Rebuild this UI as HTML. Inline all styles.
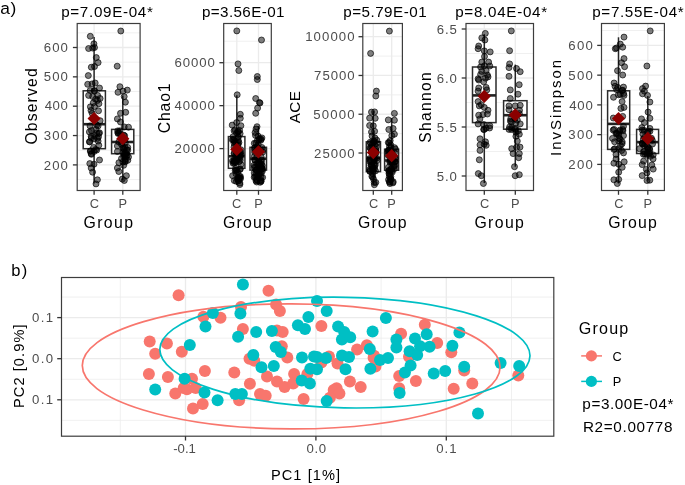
<!DOCTYPE html>
<html><head><meta charset="utf-8"><style>
html,body{margin:0;padding:0;background:#fff;width:685px;height:485px;overflow:hidden}
svg{display:block;will-change:transform}
text{font-family:"Liberation Sans",sans-serif}
</style></head><body>
<svg width="685" height="485" viewBox="0 0 685 485">
<rect x="0" y="0" width="685" height="485" fill="#fff"/>
<line x1="77.20" y1="32.83" x2="140.10" y2="32.83" stroke="#EBEBEB" stroke-width="0.75" />
<line x1="77.20" y1="62.17" x2="140.10" y2="62.17" stroke="#EBEBEB" stroke-width="0.75" />
<line x1="77.20" y1="91.53" x2="140.10" y2="91.53" stroke="#EBEBEB" stroke-width="0.75" />
<line x1="77.20" y1="120.88" x2="140.10" y2="120.88" stroke="#EBEBEB" stroke-width="0.75" />
<line x1="77.20" y1="150.22" x2="140.10" y2="150.22" stroke="#EBEBEB" stroke-width="0.75" />
<line x1="77.20" y1="179.57" x2="140.10" y2="179.57" stroke="#EBEBEB" stroke-width="0.75" />
<line x1="77.20" y1="47.50" x2="140.10" y2="47.50" stroke="#EBEBEB" stroke-width="1.3" />
<line x1="77.20" y1="76.85" x2="140.10" y2="76.85" stroke="#EBEBEB" stroke-width="1.3" />
<line x1="77.20" y1="106.20" x2="140.10" y2="106.20" stroke="#EBEBEB" stroke-width="1.3" />
<line x1="77.20" y1="135.55" x2="140.10" y2="135.55" stroke="#EBEBEB" stroke-width="1.3" />
<line x1="77.20" y1="164.90" x2="140.10" y2="164.90" stroke="#EBEBEB" stroke-width="1.3" />
<line x1="94.10" y1="23.50" x2="94.10" y2="190.50" stroke="#EBEBEB" stroke-width="1.3" />
<line x1="122.80" y1="23.50" x2="122.80" y2="190.50" stroke="#EBEBEB" stroke-width="1.3" />
<line x1="94.10" y1="36.90" x2="94.10" y2="90.80" stroke="#262626" stroke-width="1.5" />
<line x1="94.10" y1="148.70" x2="94.10" y2="183.50" stroke="#262626" stroke-width="1.5" />
<rect x="83.20" y="90.80" width="22.20" height="57.90" fill="#fff" stroke="#2b2b2b" stroke-width="1.5"/>
<line x1="83.20" y1="124.20" x2="105.40" y2="124.20" stroke="#222" stroke-width="2.6" />
<line x1="122.80" y1="95.40" x2="122.80" y2="129.40" stroke="#262626" stroke-width="1.5" />
<line x1="122.80" y1="153.70" x2="122.80" y2="180.50" stroke="#262626" stroke-width="1.5" />
<rect x="111.60" y="129.40" width="22.20" height="24.30" fill="#fff" stroke="#2b2b2b" stroke-width="1.5"/>
<line x1="111.60" y1="142.00" x2="133.80" y2="142.00" stroke="#222" stroke-width="2.6" />
<circle cx="90.3" cy="36.3" r="3.0" fill="rgba(0,0,0,0.5)" stroke="rgba(0,0,0,0.65)" stroke-width="1.0"/>
<circle cx="93.9" cy="43.8" r="3.0" fill="rgba(0,0,0,0.5)" stroke="rgba(0,0,0,0.65)" stroke-width="1.0"/>
<circle cx="88.6" cy="48.5" r="3.0" fill="rgba(0,0,0,0.5)" stroke="rgba(0,0,0,0.65)" stroke-width="1.0"/>
<circle cx="92.7" cy="48.1" r="3.0" fill="rgba(0,0,0,0.5)" stroke="rgba(0,0,0,0.65)" stroke-width="1.0"/>
<circle cx="94.5" cy="47.5" r="3.0" fill="rgba(0,0,0,0.5)" stroke="rgba(0,0,0,0.65)" stroke-width="1.0"/>
<circle cx="96.3" cy="57.6" r="3.0" fill="rgba(0,0,0,0.5)" stroke="rgba(0,0,0,0.65)" stroke-width="1.0"/>
<circle cx="98.1" cy="62.6" r="3.0" fill="rgba(0,0,0,0.5)" stroke="rgba(0,0,0,0.65)" stroke-width="1.0"/>
<circle cx="91.3" cy="67.2" r="3.0" fill="rgba(0,0,0,0.5)" stroke="rgba(0,0,0,0.65)" stroke-width="1.0"/>
<circle cx="94.5" cy="66.5" r="3.0" fill="rgba(0,0,0,0.5)" stroke="rgba(0,0,0,0.65)" stroke-width="1.0"/>
<circle cx="88.3" cy="75.6" r="3.0" fill="rgba(0,0,0,0.5)" stroke="rgba(0,0,0,0.65)" stroke-width="1.0"/>
<circle cx="87.7" cy="84.3" r="3.0" fill="rgba(0,0,0,0.5)" stroke="rgba(0,0,0,0.65)" stroke-width="1.0"/>
<circle cx="92.1" cy="83.9" r="3.0" fill="rgba(0,0,0,0.5)" stroke="rgba(0,0,0,0.65)" stroke-width="1.0"/>
<circle cx="95.2" cy="83.0" r="3.0" fill="rgba(0,0,0,0.5)" stroke="rgba(0,0,0,0.65)" stroke-width="1.0"/>
<circle cx="99.5" cy="88.0" r="3.0" fill="rgba(0,0,0,0.5)" stroke="rgba(0,0,0,0.65)" stroke-width="1.0"/>
<circle cx="90.2" cy="90.5" r="3.0" fill="rgba(0,0,0,0.5)" stroke="rgba(0,0,0,0.65)" stroke-width="1.0"/>
<circle cx="94.5" cy="91.1" r="3.0" fill="rgba(0,0,0,0.5)" stroke="rgba(0,0,0,0.65)" stroke-width="1.0"/>
<circle cx="92.7" cy="96.6" r="3.0" fill="rgba(0,0,0,0.5)" stroke="rgba(0,0,0,0.65)" stroke-width="1.0"/>
<circle cx="97.6" cy="95.4" r="3.0" fill="rgba(0,0,0,0.5)" stroke="rgba(0,0,0,0.65)" stroke-width="1.0"/>
<circle cx="100.1" cy="98.5" r="3.0" fill="rgba(0,0,0,0.5)" stroke="rgba(0,0,0,0.65)" stroke-width="1.0"/>
<circle cx="93.3" cy="102.8" r="3.0" fill="rgba(0,0,0,0.5)" stroke="rgba(0,0,0,0.65)" stroke-width="1.0"/>
<circle cx="98.9" cy="103.7" r="3.0" fill="rgba(0,0,0,0.5)" stroke="rgba(0,0,0,0.65)" stroke-width="1.0"/>
<circle cx="94.5" cy="106.5" r="3.0" fill="rgba(0,0,0,0.5)" stroke="rgba(0,0,0,0.65)" stroke-width="1.0"/>
<circle cx="98.5" cy="110.8" r="3.0" fill="rgba(0,0,0,0.5)" stroke="rgba(0,0,0,0.65)" stroke-width="1.0"/>
<circle cx="92.1" cy="113.3" r="3.0" fill="rgba(0,0,0,0.5)" stroke="rgba(0,0,0,0.65)" stroke-width="1.0"/>
<circle cx="100.1" cy="120.7" r="3.0" fill="rgba(0,0,0,0.5)" stroke="rgba(0,0,0,0.65)" stroke-width="1.0"/>
<circle cx="91.5" cy="130.6" r="3.0" fill="rgba(0,0,0,0.5)" stroke="rgba(0,0,0,0.65)" stroke-width="1.0"/>
<circle cx="95.8" cy="129.4" r="3.0" fill="rgba(0,0,0,0.5)" stroke="rgba(0,0,0,0.65)" stroke-width="1.0"/>
<circle cx="99.5" cy="132.8" r="3.0" fill="rgba(0,0,0,0.5)" stroke="rgba(0,0,0,0.65)" stroke-width="1.0"/>
<circle cx="98.8" cy="133.5" r="3.0" fill="rgba(0,0,0,0.5)" stroke="rgba(0,0,0,0.65)" stroke-width="1.0"/>
<circle cx="91.2" cy="136.3" r="3.0" fill="rgba(0,0,0,0.5)" stroke="rgba(0,0,0,0.65)" stroke-width="1.0"/>
<circle cx="94.6" cy="135.6" r="3.0" fill="rgba(0,0,0,0.5)" stroke="rgba(0,0,0,0.65)" stroke-width="1.0"/>
<circle cx="89.8" cy="141.8" r="3.0" fill="rgba(0,0,0,0.5)" stroke="rgba(0,0,0,0.65)" stroke-width="1.0"/>
<circle cx="98.1" cy="141.1" r="3.0" fill="rgba(0,0,0,0.5)" stroke="rgba(0,0,0,0.65)" stroke-width="1.0"/>
<circle cx="98.8" cy="145.3" r="3.0" fill="rgba(0,0,0,0.5)" stroke="rgba(0,0,0,0.65)" stroke-width="1.0"/>
<circle cx="90.5" cy="150.8" r="3.0" fill="rgba(0,0,0,0.5)" stroke="rgba(0,0,0,0.65)" stroke-width="1.0"/>
<circle cx="94.0" cy="151.5" r="3.0" fill="rgba(0,0,0,0.5)" stroke="rgba(0,0,0,0.65)" stroke-width="1.0"/>
<circle cx="96.7" cy="150.1" r="3.0" fill="rgba(0,0,0,0.5)" stroke="rgba(0,0,0,0.65)" stroke-width="1.0"/>
<circle cx="91.2" cy="153.6" r="3.0" fill="rgba(0,0,0,0.5)" stroke="rgba(0,0,0,0.65)" stroke-width="1.0"/>
<circle cx="99.5" cy="160.0" r="3.0" fill="rgba(0,0,0,0.5)" stroke="rgba(0,0,0,0.65)" stroke-width="1.0"/>
<circle cx="89.8" cy="163.6" r="3.0" fill="rgba(0,0,0,0.5)" stroke="rgba(0,0,0,0.65)" stroke-width="1.0"/>
<circle cx="94.0" cy="164.2" r="3.0" fill="rgba(0,0,0,0.5)" stroke="rgba(0,0,0,0.65)" stroke-width="1.0"/>
<circle cx="91.2" cy="168.0" r="3.0" fill="rgba(0,0,0,0.5)" stroke="rgba(0,0,0,0.65)" stroke-width="1.0"/>
<circle cx="92.6" cy="172.2" r="3.0" fill="rgba(0,0,0,0.5)" stroke="rgba(0,0,0,0.65)" stroke-width="1.0"/>
<circle cx="97.4" cy="179.8" r="3.0" fill="rgba(0,0,0,0.5)" stroke="rgba(0,0,0,0.65)" stroke-width="1.0"/>
<circle cx="96.0" cy="183.9" r="3.0" fill="rgba(0,0,0,0.5)" stroke="rgba(0,0,0,0.65)" stroke-width="1.0"/>
<circle cx="90.4" cy="151.3" r="3.0" fill="rgba(0,0,0,0.5)" stroke="rgba(0,0,0,0.65)" stroke-width="1.0"/>
<circle cx="96.7" cy="132.9" r="3.0" fill="rgba(0,0,0,0.5)" stroke="rgba(0,0,0,0.65)" stroke-width="1.0"/>
<circle cx="94.1" cy="138.9" r="3.0" fill="rgba(0,0,0,0.5)" stroke="rgba(0,0,0,0.65)" stroke-width="1.0"/>
<circle cx="95.6" cy="149.5" r="3.0" fill="rgba(0,0,0,0.5)" stroke="rgba(0,0,0,0.65)" stroke-width="1.0"/>
<circle cx="90.0" cy="125.9" r="3.0" fill="rgba(0,0,0,0.5)" stroke="rgba(0,0,0,0.65)" stroke-width="1.0"/>
<circle cx="97.5" cy="138.4" r="3.0" fill="rgba(0,0,0,0.5)" stroke="rgba(0,0,0,0.65)" stroke-width="1.0"/>
<circle cx="96.7" cy="125.1" r="3.0" fill="rgba(0,0,0,0.5)" stroke="rgba(0,0,0,0.65)" stroke-width="1.0"/>
<circle cx="93.6" cy="147.4" r="3.0" fill="rgba(0,0,0,0.5)" stroke="rgba(0,0,0,0.65)" stroke-width="1.0"/>
<circle cx="91.4" cy="154.3" r="3.0" fill="rgba(0,0,0,0.5)" stroke="rgba(0,0,0,0.65)" stroke-width="1.0"/>
<circle cx="98.1" cy="125.9" r="3.0" fill="rgba(0,0,0,0.5)" stroke="rgba(0,0,0,0.65)" stroke-width="1.0"/>
<circle cx="89.4" cy="141.8" r="3.0" fill="rgba(0,0,0,0.5)" stroke="rgba(0,0,0,0.65)" stroke-width="1.0"/>
<circle cx="98.5" cy="136.8" r="3.0" fill="rgba(0,0,0,0.5)" stroke="rgba(0,0,0,0.65)" stroke-width="1.0"/>
<circle cx="91.3" cy="138.1" r="3.0" fill="rgba(0,0,0,0.5)" stroke="rgba(0,0,0,0.65)" stroke-width="1.0"/>
<circle cx="89.4" cy="131.9" r="3.0" fill="rgba(0,0,0,0.5)" stroke="rgba(0,0,0,0.65)" stroke-width="1.0"/>
<circle cx="90.4" cy="106.8" r="3.0" fill="rgba(0,0,0,0.5)" stroke="rgba(0,0,0,0.65)" stroke-width="1.0"/>
<circle cx="95.6" cy="99.2" r="3.0" fill="rgba(0,0,0,0.5)" stroke="rgba(0,0,0,0.65)" stroke-width="1.0"/>
<circle cx="91.0" cy="110.5" r="3.0" fill="rgba(0,0,0,0.5)" stroke="rgba(0,0,0,0.65)" stroke-width="1.0"/>
<circle cx="97.5" cy="100.4" r="3.0" fill="rgba(0,0,0,0.5)" stroke="rgba(0,0,0,0.65)" stroke-width="1.0"/>
<circle cx="94.2" cy="90.5" r="3.0" fill="rgba(0,0,0,0.5)" stroke="rgba(0,0,0,0.65)" stroke-width="1.0"/>
<circle cx="88.6" cy="95.4" r="3.0" fill="rgba(0,0,0,0.5)" stroke="rgba(0,0,0,0.65)" stroke-width="1.0"/>
<circle cx="120.8" cy="31.0" r="3.0" fill="rgba(0,0,0,0.5)" stroke="rgba(0,0,0,0.65)" stroke-width="1.0"/>
<circle cx="117.2" cy="66.2" r="3.0" fill="rgba(0,0,0,0.5)" stroke="rgba(0,0,0,0.65)" stroke-width="1.0"/>
<circle cx="119.9" cy="86.7" r="3.0" fill="rgba(0,0,0,0.5)" stroke="rgba(0,0,0,0.65)" stroke-width="1.0"/>
<circle cx="118.0" cy="92.3" r="3.0" fill="rgba(0,0,0,0.5)" stroke="rgba(0,0,0,0.65)" stroke-width="1.0"/>
<circle cx="123.0" cy="91.1" r="3.0" fill="rgba(0,0,0,0.5)" stroke="rgba(0,0,0,0.65)" stroke-width="1.0"/>
<circle cx="127.3" cy="90.1" r="3.0" fill="rgba(0,0,0,0.5)" stroke="rgba(0,0,0,0.65)" stroke-width="1.0"/>
<circle cx="124.2" cy="96.6" r="3.0" fill="rgba(0,0,0,0.5)" stroke="rgba(0,0,0,0.65)" stroke-width="1.0"/>
<circle cx="125.4" cy="102.2" r="3.0" fill="rgba(0,0,0,0.5)" stroke="rgba(0,0,0,0.65)" stroke-width="1.0"/>
<circle cx="120.5" cy="113.3" r="3.0" fill="rgba(0,0,0,0.5)" stroke="rgba(0,0,0,0.65)" stroke-width="1.0"/>
<circle cx="125.7" cy="112.3" r="3.0" fill="rgba(0,0,0,0.5)" stroke="rgba(0,0,0,0.65)" stroke-width="1.0"/>
<circle cx="117.4" cy="118.9" r="3.0" fill="rgba(0,0,0,0.5)" stroke="rgba(0,0,0,0.65)" stroke-width="1.0"/>
<circle cx="120.5" cy="122.0" r="3.0" fill="rgba(0,0,0,0.5)" stroke="rgba(0,0,0,0.65)" stroke-width="1.0"/>
<circle cx="124.2" cy="126.9" r="3.0" fill="rgba(0,0,0,0.5)" stroke="rgba(0,0,0,0.65)" stroke-width="1.0"/>
<circle cx="128.5" cy="127.2" r="3.0" fill="rgba(0,0,0,0.5)" stroke="rgba(0,0,0,0.65)" stroke-width="1.0"/>
<circle cx="119.3" cy="133.1" r="3.0" fill="rgba(0,0,0,0.5)" stroke="rgba(0,0,0,0.65)" stroke-width="1.0"/>
<circle cx="118.1" cy="133.5" r="3.0" fill="rgba(0,0,0,0.5)" stroke="rgba(0,0,0,0.65)" stroke-width="1.0"/>
<circle cx="117.4" cy="146.0" r="3.0" fill="rgba(0,0,0,0.5)" stroke="rgba(0,0,0,0.65)" stroke-width="1.0"/>
<circle cx="125.0" cy="147.3" r="3.0" fill="rgba(0,0,0,0.5)" stroke="rgba(0,0,0,0.65)" stroke-width="1.0"/>
<circle cx="117.4" cy="151.5" r="3.0" fill="rgba(0,0,0,0.5)" stroke="rgba(0,0,0,0.65)" stroke-width="1.0"/>
<circle cx="127.8" cy="150.1" r="3.0" fill="rgba(0,0,0,0.5)" stroke="rgba(0,0,0,0.65)" stroke-width="1.0"/>
<circle cx="123.0" cy="152.2" r="3.0" fill="rgba(0,0,0,0.5)" stroke="rgba(0,0,0,0.65)" stroke-width="1.0"/>
<circle cx="123.7" cy="154.2" r="3.0" fill="rgba(0,0,0,0.5)" stroke="rgba(0,0,0,0.65)" stroke-width="1.0"/>
<circle cx="128.5" cy="157.0" r="3.0" fill="rgba(0,0,0,0.5)" stroke="rgba(0,0,0,0.65)" stroke-width="1.0"/>
<circle cx="125.0" cy="161.1" r="3.0" fill="rgba(0,0,0,0.5)" stroke="rgba(0,0,0,0.65)" stroke-width="1.0"/>
<circle cx="123.7" cy="165.3" r="3.0" fill="rgba(0,0,0,0.5)" stroke="rgba(0,0,0,0.65)" stroke-width="1.0"/>
<circle cx="117.4" cy="168.0" r="3.0" fill="rgba(0,0,0,0.5)" stroke="rgba(0,0,0,0.65)" stroke-width="1.0"/>
<circle cx="118.8" cy="171.5" r="3.0" fill="rgba(0,0,0,0.5)" stroke="rgba(0,0,0,0.65)" stroke-width="1.0"/>
<circle cx="126.4" cy="175.7" r="3.0" fill="rgba(0,0,0,0.5)" stroke="rgba(0,0,0,0.65)" stroke-width="1.0"/>
<circle cx="122.3" cy="179.1" r="3.0" fill="rgba(0,0,0,0.5)" stroke="rgba(0,0,0,0.65)" stroke-width="1.0"/>
<circle cx="124.3" cy="180.5" r="3.0" fill="rgba(0,0,0,0.5)" stroke="rgba(0,0,0,0.65)" stroke-width="1.0"/>
<circle cx="127.8" cy="160.3" r="3.0" fill="rgba(0,0,0,0.5)" stroke="rgba(0,0,0,0.65)" stroke-width="1.0"/>
<circle cx="117.9" cy="132.7" r="3.0" fill="rgba(0,0,0,0.5)" stroke="rgba(0,0,0,0.65)" stroke-width="1.0"/>
<circle cx="126.5" cy="153.6" r="3.0" fill="rgba(0,0,0,0.5)" stroke="rgba(0,0,0,0.65)" stroke-width="1.0"/>
<circle cx="124.7" cy="139.9" r="3.0" fill="rgba(0,0,0,0.5)" stroke="rgba(0,0,0,0.65)" stroke-width="1.0"/>
<circle cx="124.0" cy="149.4" r="3.0" fill="rgba(0,0,0,0.5)" stroke="rgba(0,0,0,0.65)" stroke-width="1.0"/>
<circle cx="123.7" cy="135.1" r="3.0" fill="rgba(0,0,0,0.5)" stroke="rgba(0,0,0,0.65)" stroke-width="1.0"/>
<circle cx="122.0" cy="142.6" r="3.0" fill="rgba(0,0,0,0.5)" stroke="rgba(0,0,0,0.65)" stroke-width="1.0"/>
<circle cx="125.3" cy="161.8" r="3.0" fill="rgba(0,0,0,0.5)" stroke="rgba(0,0,0,0.65)" stroke-width="1.0"/>
<circle cx="127.7" cy="147.4" r="3.0" fill="rgba(0,0,0,0.5)" stroke="rgba(0,0,0,0.65)" stroke-width="1.0"/>
<circle cx="122.2" cy="138.6" r="3.0" fill="rgba(0,0,0,0.5)" stroke="rgba(0,0,0,0.65)" stroke-width="1.0"/>
<circle cx="117.7" cy="130.9" r="3.0" fill="rgba(0,0,0,0.5)" stroke="rgba(0,0,0,0.65)" stroke-width="1.0"/>
<circle cx="122.4" cy="140.2" r="3.0" fill="rgba(0,0,0,0.5)" stroke="rgba(0,0,0,0.65)" stroke-width="1.0"/>
<circle cx="121.5" cy="158.5" r="3.0" fill="rgba(0,0,0,0.5)" stroke="rgba(0,0,0,0.65)" stroke-width="1.0"/>
<circle cx="123.1" cy="147.9" r="3.0" fill="rgba(0,0,0,0.5)" stroke="rgba(0,0,0,0.65)" stroke-width="1.0"/>
<circle cx="119.9" cy="130.8" r="3.0" fill="rgba(0,0,0,0.5)" stroke="rgba(0,0,0,0.65)" stroke-width="1.0"/>
<circle cx="120.9" cy="134.4" r="3.0" fill="rgba(0,0,0,0.5)" stroke="rgba(0,0,0,0.65)" stroke-width="1.0"/>
<circle cx="122.9" cy="162.0" r="3.0" fill="rgba(0,0,0,0.5)" stroke="rgba(0,0,0,0.65)" stroke-width="1.0"/>
<circle cx="124.7" cy="135.8" r="3.0" fill="rgba(0,0,0,0.5)" stroke="rgba(0,0,0,0.65)" stroke-width="1.0"/>
<circle cx="127.1" cy="155.5" r="3.0" fill="rgba(0,0,0,0.5)" stroke="rgba(0,0,0,0.65)" stroke-width="1.0"/>
<circle cx="125.4" cy="159.0" r="3.0" fill="rgba(0,0,0,0.5)" stroke="rgba(0,0,0,0.65)" stroke-width="1.0"/>
<circle cx="121.4" cy="144.2" r="3.0" fill="rgba(0,0,0,0.5)" stroke="rgba(0,0,0,0.65)" stroke-width="1.0"/>
<circle cx="118.9" cy="162.7" r="3.0" fill="rgba(0,0,0,0.5)" stroke="rgba(0,0,0,0.65)" stroke-width="1.0"/>
<circle cx="123.7" cy="156.6" r="3.0" fill="rgba(0,0,0,0.5)" stroke="rgba(0,0,0,0.65)" stroke-width="1.0"/>
<circle cx="123.4" cy="148.4" r="3.0" fill="rgba(0,0,0,0.5)" stroke="rgba(0,0,0,0.65)" stroke-width="1.0"/>
<circle cx="125.5" cy="153.6" r="3.0" fill="rgba(0,0,0,0.5)" stroke="rgba(0,0,0,0.65)" stroke-width="1.0"/>
<circle cx="126.1" cy="155.9" r="3.0" fill="rgba(0,0,0,0.5)" stroke="rgba(0,0,0,0.65)" stroke-width="1.0"/>
<circle cx="126.7" cy="149.9" r="3.0" fill="rgba(0,0,0,0.5)" stroke="rgba(0,0,0,0.65)" stroke-width="1.0"/>
<circle cx="118.8" cy="142.0" r="3.0" fill="rgba(0,0,0,0.5)" stroke="rgba(0,0,0,0.65)" stroke-width="1.0"/>
<circle cx="125.4" cy="142.5" r="3.0" fill="rgba(0,0,0,0.5)" stroke="rgba(0,0,0,0.65)" stroke-width="1.0"/>
<circle cx="124.6" cy="154.8" r="3.0" fill="rgba(0,0,0,0.5)" stroke="rgba(0,0,0,0.65)" stroke-width="1.0"/>
<path d="M94.10 111.90L100.70 118.50L94.10 125.10L87.50 118.50Z" fill="#8B0000"/>
<path d="M122.80 132.10L129.40 138.70L122.80 145.30L116.20 138.70Z" fill="#8B0000"/>
<rect x="77.20" y="23.50" width="62.90" height="167.00" fill="none" stroke="#3d3d3d" stroke-width="1.2"/>
<line x1="72.90" y1="47.50" x2="77.20" y2="47.50" stroke="#333333" stroke-width="1.3" />
<line x1="72.90" y1="76.85" x2="77.20" y2="76.85" stroke="#333333" stroke-width="1.3" />
<line x1="72.90" y1="106.20" x2="77.20" y2="106.20" stroke="#333333" stroke-width="1.3" />
<line x1="72.90" y1="135.55" x2="77.20" y2="135.55" stroke="#333333" stroke-width="1.3" />
<line x1="72.90" y1="164.90" x2="77.20" y2="164.90" stroke="#333333" stroke-width="1.3" />
<line x1="94.10" y1="190.50" x2="94.10" y2="194.80" stroke="#333333" stroke-width="1.3" />
<line x1="122.80" y1="190.50" x2="122.80" y2="194.80" stroke="#333333" stroke-width="1.3" />
<line x1="223.70" y1="41.23" x2="271.30" y2="41.23" stroke="#EBEBEB" stroke-width="0.75" />
<line x1="223.70" y1="84.18" x2="271.30" y2="84.18" stroke="#EBEBEB" stroke-width="0.75" />
<line x1="223.70" y1="127.12" x2="271.30" y2="127.12" stroke="#EBEBEB" stroke-width="0.75" />
<line x1="223.70" y1="170.07" x2="271.30" y2="170.07" stroke="#EBEBEB" stroke-width="0.75" />
<line x1="223.70" y1="62.70" x2="271.30" y2="62.70" stroke="#EBEBEB" stroke-width="1.3" />
<line x1="223.70" y1="105.65" x2="271.30" y2="105.65" stroke="#EBEBEB" stroke-width="1.3" />
<line x1="223.70" y1="148.60" x2="271.30" y2="148.60" stroke="#EBEBEB" stroke-width="1.3" />
<line x1="236.80" y1="23.50" x2="236.80" y2="190.50" stroke="#EBEBEB" stroke-width="1.3" />
<line x1="258.50" y1="23.50" x2="258.50" y2="190.50" stroke="#EBEBEB" stroke-width="1.3" />
<line x1="236.80" y1="95.20" x2="236.80" y2="136.60" stroke="#262626" stroke-width="1.5" />
<line x1="236.80" y1="168.30" x2="236.80" y2="185.00" stroke="#262626" stroke-width="1.5" />
<rect x="228.40" y="136.60" width="16.50" height="31.70" fill="#fff" stroke="#2b2b2b" stroke-width="1.5"/>
<line x1="228.40" y1="156.30" x2="244.90" y2="156.30" stroke="#222" stroke-width="2.6" />
<line x1="258.50" y1="126.00" x2="258.50" y2="147.30" stroke="#262626" stroke-width="1.5" />
<line x1="258.50" y1="170.10" x2="258.50" y2="184.00" stroke="#262626" stroke-width="1.5" />
<rect x="250.00" y="147.30" width="16.50" height="22.80" fill="#fff" stroke="#2b2b2b" stroke-width="1.5"/>
<line x1="250.00" y1="158.70" x2="266.50" y2="158.70" stroke="#222" stroke-width="2.6" />
<circle cx="236.8" cy="30.9" r="3.0" fill="rgba(0,0,0,0.5)" stroke="rgba(0,0,0,0.65)" stroke-width="1.0"/>
<circle cx="238.0" cy="63.9" r="3.0" fill="rgba(0,0,0,0.5)" stroke="rgba(0,0,0,0.65)" stroke-width="1.0"/>
<circle cx="238.8" cy="70.5" r="3.0" fill="rgba(0,0,0,0.5)" stroke="rgba(0,0,0,0.65)" stroke-width="1.0"/>
<circle cx="237.2" cy="94.8" r="3.0" fill="rgba(0,0,0,0.5)" stroke="rgba(0,0,0,0.65)" stroke-width="1.0"/>
<circle cx="240.3" cy="114.3" r="3.0" fill="rgba(0,0,0,0.5)" stroke="rgba(0,0,0,0.65)" stroke-width="1.0"/>
<circle cx="240.3" cy="118.3" r="3.0" fill="rgba(0,0,0,0.5)" stroke="rgba(0,0,0,0.65)" stroke-width="1.0"/>
<circle cx="236.6" cy="122.6" r="3.0" fill="rgba(0,0,0,0.5)" stroke="rgba(0,0,0,0.65)" stroke-width="1.0"/>
<circle cx="232.2" cy="125.1" r="3.0" fill="rgba(0,0,0,0.5)" stroke="rgba(0,0,0,0.65)" stroke-width="1.0"/>
<circle cx="240.9" cy="125.7" r="3.0" fill="rgba(0,0,0,0.5)" stroke="rgba(0,0,0,0.65)" stroke-width="1.0"/>
<circle cx="234.1" cy="130.7" r="3.0" fill="rgba(0,0,0,0.5)" stroke="rgba(0,0,0,0.65)" stroke-width="1.0"/>
<circle cx="239.6" cy="130.4" r="3.0" fill="rgba(0,0,0,0.5)" stroke="rgba(0,0,0,0.65)" stroke-width="1.0"/>
<circle cx="236.6" cy="133.1" r="3.0" fill="rgba(0,0,0,0.5)" stroke="rgba(0,0,0,0.65)" stroke-width="1.0"/>
<circle cx="234.5" cy="159.0" r="3.0" fill="rgba(0,0,0,0.5)" stroke="rgba(0,0,0,0.65)" stroke-width="1.0"/>
<circle cx="235.7" cy="162.4" r="3.0" fill="rgba(0,0,0,0.5)" stroke="rgba(0,0,0,0.65)" stroke-width="1.0"/>
<circle cx="237.9" cy="131.7" r="3.0" fill="rgba(0,0,0,0.5)" stroke="rgba(0,0,0,0.65)" stroke-width="1.0"/>
<circle cx="232.6" cy="175.7" r="3.0" fill="rgba(0,0,0,0.5)" stroke="rgba(0,0,0,0.65)" stroke-width="1.0"/>
<circle cx="234.7" cy="141.4" r="3.0" fill="rgba(0,0,0,0.5)" stroke="rgba(0,0,0,0.65)" stroke-width="1.0"/>
<circle cx="241.1" cy="154.8" r="3.0" fill="rgba(0,0,0,0.5)" stroke="rgba(0,0,0,0.65)" stroke-width="1.0"/>
<circle cx="239.7" cy="155.2" r="3.0" fill="rgba(0,0,0,0.5)" stroke="rgba(0,0,0,0.65)" stroke-width="1.0"/>
<circle cx="238.0" cy="136.6" r="3.0" fill="rgba(0,0,0,0.5)" stroke="rgba(0,0,0,0.65)" stroke-width="1.0"/>
<circle cx="238.0" cy="177.5" r="3.0" fill="rgba(0,0,0,0.5)" stroke="rgba(0,0,0,0.65)" stroke-width="1.0"/>
<circle cx="237.0" cy="170.3" r="3.0" fill="rgba(0,0,0,0.5)" stroke="rgba(0,0,0,0.65)" stroke-width="1.0"/>
<circle cx="238.3" cy="131.6" r="3.0" fill="rgba(0,0,0,0.5)" stroke="rgba(0,0,0,0.65)" stroke-width="1.0"/>
<circle cx="239.0" cy="161.7" r="3.0" fill="rgba(0,0,0,0.5)" stroke="rgba(0,0,0,0.65)" stroke-width="1.0"/>
<circle cx="235.1" cy="129.8" r="3.0" fill="rgba(0,0,0,0.5)" stroke="rgba(0,0,0,0.65)" stroke-width="1.0"/>
<circle cx="239.9" cy="154.9" r="3.0" fill="rgba(0,0,0,0.5)" stroke="rgba(0,0,0,0.65)" stroke-width="1.0"/>
<circle cx="238.7" cy="178.1" r="3.0" fill="rgba(0,0,0,0.5)" stroke="rgba(0,0,0,0.65)" stroke-width="1.0"/>
<circle cx="238.6" cy="180.5" r="3.0" fill="rgba(0,0,0,0.5)" stroke="rgba(0,0,0,0.65)" stroke-width="1.0"/>
<circle cx="235.9" cy="173.7" r="3.0" fill="rgba(0,0,0,0.5)" stroke="rgba(0,0,0,0.65)" stroke-width="1.0"/>
<circle cx="236.3" cy="181.3" r="3.0" fill="rgba(0,0,0,0.5)" stroke="rgba(0,0,0,0.65)" stroke-width="1.0"/>
<circle cx="240.1" cy="133.6" r="3.0" fill="rgba(0,0,0,0.5)" stroke="rgba(0,0,0,0.65)" stroke-width="1.0"/>
<circle cx="233.7" cy="140.4" r="3.0" fill="rgba(0,0,0,0.5)" stroke="rgba(0,0,0,0.65)" stroke-width="1.0"/>
<circle cx="240.8" cy="152.9" r="3.0" fill="rgba(0,0,0,0.5)" stroke="rgba(0,0,0,0.65)" stroke-width="1.0"/>
<circle cx="237.9" cy="145.2" r="3.0" fill="rgba(0,0,0,0.5)" stroke="rgba(0,0,0,0.65)" stroke-width="1.0"/>
<circle cx="236.9" cy="150.0" r="3.0" fill="rgba(0,0,0,0.5)" stroke="rgba(0,0,0,0.65)" stroke-width="1.0"/>
<circle cx="235.5" cy="161.3" r="3.0" fill="rgba(0,0,0,0.5)" stroke="rgba(0,0,0,0.65)" stroke-width="1.0"/>
<circle cx="237.5" cy="179.5" r="3.0" fill="rgba(0,0,0,0.5)" stroke="rgba(0,0,0,0.65)" stroke-width="1.0"/>
<circle cx="238.4" cy="180.9" r="3.0" fill="rgba(0,0,0,0.5)" stroke="rgba(0,0,0,0.65)" stroke-width="1.0"/>
<circle cx="239.9" cy="184.5" r="3.0" fill="rgba(0,0,0,0.5)" stroke="rgba(0,0,0,0.65)" stroke-width="1.0"/>
<circle cx="238.3" cy="137.3" r="3.0" fill="rgba(0,0,0,0.5)" stroke="rgba(0,0,0,0.65)" stroke-width="1.0"/>
<circle cx="239.9" cy="183.0" r="3.0" fill="rgba(0,0,0,0.5)" stroke="rgba(0,0,0,0.65)" stroke-width="1.0"/>
<circle cx="240.3" cy="160.4" r="3.0" fill="rgba(0,0,0,0.5)" stroke="rgba(0,0,0,0.65)" stroke-width="1.0"/>
<circle cx="234.5" cy="153.4" r="3.0" fill="rgba(0,0,0,0.5)" stroke="rgba(0,0,0,0.65)" stroke-width="1.0"/>
<circle cx="235.9" cy="155.1" r="3.0" fill="rgba(0,0,0,0.5)" stroke="rgba(0,0,0,0.65)" stroke-width="1.0"/>
<circle cx="233.1" cy="163.3" r="3.0" fill="rgba(0,0,0,0.5)" stroke="rgba(0,0,0,0.65)" stroke-width="1.0"/>
<circle cx="240.4" cy="176.4" r="3.0" fill="rgba(0,0,0,0.5)" stroke="rgba(0,0,0,0.65)" stroke-width="1.0"/>
<circle cx="239.1" cy="157.3" r="3.0" fill="rgba(0,0,0,0.5)" stroke="rgba(0,0,0,0.65)" stroke-width="1.0"/>
<circle cx="237.1" cy="159.1" r="3.0" fill="rgba(0,0,0,0.5)" stroke="rgba(0,0,0,0.65)" stroke-width="1.0"/>
<circle cx="234.0" cy="153.5" r="3.0" fill="rgba(0,0,0,0.5)" stroke="rgba(0,0,0,0.65)" stroke-width="1.0"/>
<circle cx="234.3" cy="180.6" r="3.0" fill="rgba(0,0,0,0.5)" stroke="rgba(0,0,0,0.65)" stroke-width="1.0"/>
<circle cx="239.6" cy="176.6" r="3.0" fill="rgba(0,0,0,0.5)" stroke="rgba(0,0,0,0.65)" stroke-width="1.0"/>
<circle cx="239.4" cy="156.4" r="3.0" fill="rgba(0,0,0,0.5)" stroke="rgba(0,0,0,0.65)" stroke-width="1.0"/>
<circle cx="235.2" cy="170.7" r="3.0" fill="rgba(0,0,0,0.5)" stroke="rgba(0,0,0,0.65)" stroke-width="1.0"/>
<circle cx="238.8" cy="178.2" r="3.0" fill="rgba(0,0,0,0.5)" stroke="rgba(0,0,0,0.65)" stroke-width="1.0"/>
<circle cx="240.1" cy="152.9" r="3.0" fill="rgba(0,0,0,0.5)" stroke="rgba(0,0,0,0.65)" stroke-width="1.0"/>
<circle cx="237.7" cy="172.2" r="3.0" fill="rgba(0,0,0,0.5)" stroke="rgba(0,0,0,0.65)" stroke-width="1.0"/>
<circle cx="236.9" cy="155.9" r="3.0" fill="rgba(0,0,0,0.5)" stroke="rgba(0,0,0,0.65)" stroke-width="1.0"/>
<circle cx="236.6" cy="152.9" r="3.0" fill="rgba(0,0,0,0.5)" stroke="rgba(0,0,0,0.65)" stroke-width="1.0"/>
<circle cx="240.5" cy="178.6" r="3.0" fill="rgba(0,0,0,0.5)" stroke="rgba(0,0,0,0.65)" stroke-width="1.0"/>
<circle cx="237.2" cy="159.9" r="3.0" fill="rgba(0,0,0,0.5)" stroke="rgba(0,0,0,0.65)" stroke-width="1.0"/>
<circle cx="240.3" cy="168.9" r="3.0" fill="rgba(0,0,0,0.5)" stroke="rgba(0,0,0,0.65)" stroke-width="1.0"/>
<circle cx="240.1" cy="178.0" r="3.0" fill="rgba(0,0,0,0.5)" stroke="rgba(0,0,0,0.65)" stroke-width="1.0"/>
<circle cx="232.3" cy="139.8" r="3.0" fill="rgba(0,0,0,0.5)" stroke="rgba(0,0,0,0.65)" stroke-width="1.0"/>
<circle cx="235.8" cy="159.3" r="3.0" fill="rgba(0,0,0,0.5)" stroke="rgba(0,0,0,0.65)" stroke-width="1.0"/>
<circle cx="233.5" cy="139.8" r="3.0" fill="rgba(0,0,0,0.5)" stroke="rgba(0,0,0,0.65)" stroke-width="1.0"/>
<circle cx="234.3" cy="161.8" r="3.0" fill="rgba(0,0,0,0.5)" stroke="rgba(0,0,0,0.65)" stroke-width="1.0"/>
<circle cx="233.6" cy="161.2" r="3.0" fill="rgba(0,0,0,0.5)" stroke="rgba(0,0,0,0.65)" stroke-width="1.0"/>
<circle cx="238.3" cy="140.6" r="3.0" fill="rgba(0,0,0,0.5)" stroke="rgba(0,0,0,0.65)" stroke-width="1.0"/>
<circle cx="237.1" cy="151.2" r="3.0" fill="rgba(0,0,0,0.5)" stroke="rgba(0,0,0,0.65)" stroke-width="1.0"/>
<circle cx="236.0" cy="169.9" r="3.0" fill="rgba(0,0,0,0.5)" stroke="rgba(0,0,0,0.65)" stroke-width="1.0"/>
<circle cx="233.1" cy="136.7" r="3.0" fill="rgba(0,0,0,0.5)" stroke="rgba(0,0,0,0.65)" stroke-width="1.0"/>
<circle cx="240.8" cy="149.7" r="3.0" fill="rgba(0,0,0,0.5)" stroke="rgba(0,0,0,0.65)" stroke-width="1.0"/>
<circle cx="234.0" cy="147.2" r="3.0" fill="rgba(0,0,0,0.5)" stroke="rgba(0,0,0,0.65)" stroke-width="1.0"/>
<circle cx="235.6" cy="168.5" r="3.0" fill="rgba(0,0,0,0.5)" stroke="rgba(0,0,0,0.65)" stroke-width="1.0"/>
<circle cx="234.1" cy="143.4" r="3.0" fill="rgba(0,0,0,0.5)" stroke="rgba(0,0,0,0.65)" stroke-width="1.0"/>
<circle cx="237.6" cy="154.6" r="3.0" fill="rgba(0,0,0,0.5)" stroke="rgba(0,0,0,0.65)" stroke-width="1.0"/>
<circle cx="241.0" cy="164.5" r="3.0" fill="rgba(0,0,0,0.5)" stroke="rgba(0,0,0,0.65)" stroke-width="1.0"/>
<circle cx="235.5" cy="142.9" r="3.0" fill="rgba(0,0,0,0.5)" stroke="rgba(0,0,0,0.65)" stroke-width="1.0"/>
<circle cx="239.9" cy="169.6" r="3.0" fill="rgba(0,0,0,0.5)" stroke="rgba(0,0,0,0.65)" stroke-width="1.0"/>
<circle cx="232.5" cy="161.0" r="3.0" fill="rgba(0,0,0,0.5)" stroke="rgba(0,0,0,0.65)" stroke-width="1.0"/>
<circle cx="240.2" cy="158.1" r="3.0" fill="rgba(0,0,0,0.5)" stroke="rgba(0,0,0,0.65)" stroke-width="1.0"/>
<circle cx="234.2" cy="163.1" r="3.0" fill="rgba(0,0,0,0.5)" stroke="rgba(0,0,0,0.65)" stroke-width="1.0"/>
<circle cx="238.9" cy="142.6" r="3.0" fill="rgba(0,0,0,0.5)" stroke="rgba(0,0,0,0.65)" stroke-width="1.0"/>
<circle cx="238.1" cy="143.5" r="3.0" fill="rgba(0,0,0,0.5)" stroke="rgba(0,0,0,0.65)" stroke-width="1.0"/>
<circle cx="261.5" cy="40.0" r="3.0" fill="rgba(0,0,0,0.5)" stroke="rgba(0,0,0,0.65)" stroke-width="1.0"/>
<circle cx="257.3" cy="76.5" r="3.0" fill="rgba(0,0,0,0.5)" stroke="rgba(0,0,0,0.65)" stroke-width="1.0"/>
<circle cx="257.3" cy="79.5" r="3.0" fill="rgba(0,0,0,0.5)" stroke="rgba(0,0,0,0.65)" stroke-width="1.0"/>
<circle cx="255.7" cy="98.5" r="3.0" fill="rgba(0,0,0,0.5)" stroke="rgba(0,0,0,0.65)" stroke-width="1.0"/>
<circle cx="259.4" cy="102.5" r="3.0" fill="rgba(0,0,0,0.5)" stroke="rgba(0,0,0,0.65)" stroke-width="1.0"/>
<circle cx="260.0" cy="103.0" r="3.0" fill="rgba(0,0,0,0.5)" stroke="rgba(0,0,0,0.65)" stroke-width="1.0"/>
<circle cx="257.6" cy="108.1" r="3.0" fill="rgba(0,0,0,0.5)" stroke="rgba(0,0,0,0.65)" stroke-width="1.0"/>
<circle cx="255.7" cy="113.3" r="3.0" fill="rgba(0,0,0,0.5)" stroke="rgba(0,0,0,0.65)" stroke-width="1.0"/>
<circle cx="257.0" cy="126.7" r="3.0" fill="rgba(0,0,0,0.5)" stroke="rgba(0,0,0,0.65)" stroke-width="1.0"/>
<circle cx="255.1" cy="132.5" r="3.0" fill="rgba(0,0,0,0.5)" stroke="rgba(0,0,0,0.65)" stroke-width="1.0"/>
<circle cx="256.0" cy="129.0" r="3.0" fill="rgba(0,0,0,0.5)" stroke="rgba(0,0,0,0.65)" stroke-width="1.0"/>
<circle cx="258.0" cy="136.0" r="3.0" fill="rgba(0,0,0,0.5)" stroke="rgba(0,0,0,0.65)" stroke-width="1.0"/>
<circle cx="259.0" cy="140.0" r="3.0" fill="rgba(0,0,0,0.5)" stroke="rgba(0,0,0,0.65)" stroke-width="1.0"/>
<circle cx="259.6" cy="170.6" r="3.0" fill="rgba(0,0,0,0.5)" stroke="rgba(0,0,0,0.65)" stroke-width="1.0"/>
<circle cx="261.0" cy="181.0" r="3.0" fill="rgba(0,0,0,0.5)" stroke="rgba(0,0,0,0.65)" stroke-width="1.0"/>
<circle cx="260.6" cy="180.0" r="3.0" fill="rgba(0,0,0,0.5)" stroke="rgba(0,0,0,0.65)" stroke-width="1.0"/>
<circle cx="254.4" cy="156.2" r="3.0" fill="rgba(0,0,0,0.5)" stroke="rgba(0,0,0,0.65)" stroke-width="1.0"/>
<circle cx="262.3" cy="165.7" r="3.0" fill="rgba(0,0,0,0.5)" stroke="rgba(0,0,0,0.65)" stroke-width="1.0"/>
<circle cx="261.9" cy="137.9" r="3.0" fill="rgba(0,0,0,0.5)" stroke="rgba(0,0,0,0.65)" stroke-width="1.0"/>
<circle cx="258.2" cy="144.8" r="3.0" fill="rgba(0,0,0,0.5)" stroke="rgba(0,0,0,0.65)" stroke-width="1.0"/>
<circle cx="258.9" cy="161.8" r="3.0" fill="rgba(0,0,0,0.5)" stroke="rgba(0,0,0,0.65)" stroke-width="1.0"/>
<circle cx="254.3" cy="143.3" r="3.0" fill="rgba(0,0,0,0.5)" stroke="rgba(0,0,0,0.65)" stroke-width="1.0"/>
<circle cx="256.6" cy="179.6" r="3.0" fill="rgba(0,0,0,0.5)" stroke="rgba(0,0,0,0.65)" stroke-width="1.0"/>
<circle cx="260.8" cy="140.3" r="3.0" fill="rgba(0,0,0,0.5)" stroke="rgba(0,0,0,0.65)" stroke-width="1.0"/>
<circle cx="261.1" cy="139.2" r="3.0" fill="rgba(0,0,0,0.5)" stroke="rgba(0,0,0,0.65)" stroke-width="1.0"/>
<circle cx="259.5" cy="138.6" r="3.0" fill="rgba(0,0,0,0.5)" stroke="rgba(0,0,0,0.65)" stroke-width="1.0"/>
<circle cx="254.2" cy="177.3" r="3.0" fill="rgba(0,0,0,0.5)" stroke="rgba(0,0,0,0.65)" stroke-width="1.0"/>
<circle cx="256.0" cy="143.2" r="3.0" fill="rgba(0,0,0,0.5)" stroke="rgba(0,0,0,0.65)" stroke-width="1.0"/>
<circle cx="262.6" cy="177.4" r="3.0" fill="rgba(0,0,0,0.5)" stroke="rgba(0,0,0,0.65)" stroke-width="1.0"/>
<circle cx="256.7" cy="182.0" r="3.0" fill="rgba(0,0,0,0.5)" stroke="rgba(0,0,0,0.65)" stroke-width="1.0"/>
<circle cx="258.8" cy="167.2" r="3.0" fill="rgba(0,0,0,0.5)" stroke="rgba(0,0,0,0.65)" stroke-width="1.0"/>
<circle cx="256.0" cy="180.9" r="3.0" fill="rgba(0,0,0,0.5)" stroke="rgba(0,0,0,0.65)" stroke-width="1.0"/>
<circle cx="260.1" cy="182.3" r="3.0" fill="rgba(0,0,0,0.5)" stroke="rgba(0,0,0,0.65)" stroke-width="1.0"/>
<circle cx="261.9" cy="147.5" r="3.0" fill="rgba(0,0,0,0.5)" stroke="rgba(0,0,0,0.65)" stroke-width="1.0"/>
<circle cx="257.3" cy="140.6" r="3.0" fill="rgba(0,0,0,0.5)" stroke="rgba(0,0,0,0.65)" stroke-width="1.0"/>
<circle cx="255.5" cy="135.4" r="3.0" fill="rgba(0,0,0,0.5)" stroke="rgba(0,0,0,0.65)" stroke-width="1.0"/>
<circle cx="256.8" cy="163.4" r="3.0" fill="rgba(0,0,0,0.5)" stroke="rgba(0,0,0,0.65)" stroke-width="1.0"/>
<circle cx="254.2" cy="167.3" r="3.0" fill="rgba(0,0,0,0.5)" stroke="rgba(0,0,0,0.65)" stroke-width="1.0"/>
<circle cx="257.1" cy="148.1" r="3.0" fill="rgba(0,0,0,0.5)" stroke="rgba(0,0,0,0.65)" stroke-width="1.0"/>
<circle cx="261.2" cy="157.0" r="3.0" fill="rgba(0,0,0,0.5)" stroke="rgba(0,0,0,0.65)" stroke-width="1.0"/>
<circle cx="256.9" cy="157.0" r="3.0" fill="rgba(0,0,0,0.5)" stroke="rgba(0,0,0,0.65)" stroke-width="1.0"/>
<circle cx="261.0" cy="177.2" r="3.0" fill="rgba(0,0,0,0.5)" stroke="rgba(0,0,0,0.65)" stroke-width="1.0"/>
<circle cx="258.4" cy="162.1" r="3.0" fill="rgba(0,0,0,0.5)" stroke="rgba(0,0,0,0.65)" stroke-width="1.0"/>
<circle cx="254.2" cy="172.9" r="3.0" fill="rgba(0,0,0,0.5)" stroke="rgba(0,0,0,0.65)" stroke-width="1.0"/>
<circle cx="258.2" cy="175.5" r="3.0" fill="rgba(0,0,0,0.5)" stroke="rgba(0,0,0,0.65)" stroke-width="1.0"/>
<circle cx="257.4" cy="175.8" r="3.0" fill="rgba(0,0,0,0.5)" stroke="rgba(0,0,0,0.65)" stroke-width="1.0"/>
<circle cx="256.5" cy="176.7" r="3.0" fill="rgba(0,0,0,0.5)" stroke="rgba(0,0,0,0.65)" stroke-width="1.0"/>
<circle cx="260.5" cy="166.2" r="3.0" fill="rgba(0,0,0,0.5)" stroke="rgba(0,0,0,0.65)" stroke-width="1.0"/>
<circle cx="258.8" cy="173.4" r="3.0" fill="rgba(0,0,0,0.5)" stroke="rgba(0,0,0,0.65)" stroke-width="1.0"/>
<circle cx="255.9" cy="169.9" r="3.0" fill="rgba(0,0,0,0.5)" stroke="rgba(0,0,0,0.65)" stroke-width="1.0"/>
<circle cx="261.1" cy="162.2" r="3.0" fill="rgba(0,0,0,0.5)" stroke="rgba(0,0,0,0.65)" stroke-width="1.0"/>
<circle cx="261.1" cy="173.5" r="3.0" fill="rgba(0,0,0,0.5)" stroke="rgba(0,0,0,0.65)" stroke-width="1.0"/>
<circle cx="261.5" cy="164.1" r="3.0" fill="rgba(0,0,0,0.5)" stroke="rgba(0,0,0,0.65)" stroke-width="1.0"/>
<circle cx="255.0" cy="176.6" r="3.0" fill="rgba(0,0,0,0.5)" stroke="rgba(0,0,0,0.65)" stroke-width="1.0"/>
<circle cx="261.1" cy="167.0" r="3.0" fill="rgba(0,0,0,0.5)" stroke="rgba(0,0,0,0.65)" stroke-width="1.0"/>
<circle cx="255.0" cy="160.3" r="3.0" fill="rgba(0,0,0,0.5)" stroke="rgba(0,0,0,0.65)" stroke-width="1.0"/>
<circle cx="259.7" cy="162.9" r="3.0" fill="rgba(0,0,0,0.5)" stroke="rgba(0,0,0,0.65)" stroke-width="1.0"/>
<circle cx="262.4" cy="170.9" r="3.0" fill="rgba(0,0,0,0.5)" stroke="rgba(0,0,0,0.65)" stroke-width="1.0"/>
<circle cx="255.9" cy="172.7" r="3.0" fill="rgba(0,0,0,0.5)" stroke="rgba(0,0,0,0.65)" stroke-width="1.0"/>
<circle cx="257.3" cy="180.2" r="3.0" fill="rgba(0,0,0,0.5)" stroke="rgba(0,0,0,0.65)" stroke-width="1.0"/>
<circle cx="262.0" cy="168.9" r="3.0" fill="rgba(0,0,0,0.5)" stroke="rgba(0,0,0,0.65)" stroke-width="1.0"/>
<circle cx="259.7" cy="173.8" r="3.0" fill="rgba(0,0,0,0.5)" stroke="rgba(0,0,0,0.65)" stroke-width="1.0"/>
<circle cx="261.1" cy="181.4" r="3.0" fill="rgba(0,0,0,0.5)" stroke="rgba(0,0,0,0.65)" stroke-width="1.0"/>
<circle cx="254.6" cy="152.3" r="3.0" fill="rgba(0,0,0,0.5)" stroke="rgba(0,0,0,0.65)" stroke-width="1.0"/>
<circle cx="256.7" cy="169.5" r="3.0" fill="rgba(0,0,0,0.5)" stroke="rgba(0,0,0,0.65)" stroke-width="1.0"/>
<circle cx="258.5" cy="165.0" r="3.0" fill="rgba(0,0,0,0.5)" stroke="rgba(0,0,0,0.65)" stroke-width="1.0"/>
<circle cx="254.8" cy="159.7" r="3.0" fill="rgba(0,0,0,0.5)" stroke="rgba(0,0,0,0.65)" stroke-width="1.0"/>
<circle cx="261.7" cy="160.1" r="3.0" fill="rgba(0,0,0,0.5)" stroke="rgba(0,0,0,0.65)" stroke-width="1.0"/>
<circle cx="262.6" cy="169.0" r="3.0" fill="rgba(0,0,0,0.5)" stroke="rgba(0,0,0,0.65)" stroke-width="1.0"/>
<circle cx="257.3" cy="147.0" r="3.0" fill="rgba(0,0,0,0.5)" stroke="rgba(0,0,0,0.65)" stroke-width="1.0"/>
<circle cx="260.8" cy="150.2" r="3.0" fill="rgba(0,0,0,0.5)" stroke="rgba(0,0,0,0.65)" stroke-width="1.0"/>
<circle cx="254.0" cy="165.3" r="3.0" fill="rgba(0,0,0,0.5)" stroke="rgba(0,0,0,0.65)" stroke-width="1.0"/>
<circle cx="261.7" cy="167.9" r="3.0" fill="rgba(0,0,0,0.5)" stroke="rgba(0,0,0,0.65)" stroke-width="1.0"/>
<circle cx="262.7" cy="152.0" r="3.0" fill="rgba(0,0,0,0.5)" stroke="rgba(0,0,0,0.65)" stroke-width="1.0"/>
<circle cx="254.6" cy="150.0" r="3.0" fill="rgba(0,0,0,0.5)" stroke="rgba(0,0,0,0.65)" stroke-width="1.0"/>
<circle cx="262.9" cy="149.8" r="3.0" fill="rgba(0,0,0,0.5)" stroke="rgba(0,0,0,0.65)" stroke-width="1.0"/>
<circle cx="255.4" cy="147.5" r="3.0" fill="rgba(0,0,0,0.5)" stroke="rgba(0,0,0,0.65)" stroke-width="1.0"/>
<circle cx="254.4" cy="148.0" r="3.0" fill="rgba(0,0,0,0.5)" stroke="rgba(0,0,0,0.65)" stroke-width="1.0"/>
<circle cx="257.1" cy="151.1" r="3.0" fill="rgba(0,0,0,0.5)" stroke="rgba(0,0,0,0.65)" stroke-width="1.0"/>
<circle cx="256.7" cy="170.2" r="3.0" fill="rgba(0,0,0,0.5)" stroke="rgba(0,0,0,0.65)" stroke-width="1.0"/>
<circle cx="255.4" cy="167.4" r="3.0" fill="rgba(0,0,0,0.5)" stroke="rgba(0,0,0,0.65)" stroke-width="1.0"/>
<path d="M236.80 142.80L243.40 149.40L236.80 156.00L230.20 149.40Z" fill="#8B0000"/>
<path d="M258.50 145.20L265.10 151.80L258.50 158.40L251.90 151.80Z" fill="#8B0000"/>
<rect x="223.70" y="23.50" width="47.60" height="167.00" fill="none" stroke="#3d3d3d" stroke-width="1.2"/>
<line x1="219.40" y1="62.70" x2="223.70" y2="62.70" stroke="#333333" stroke-width="1.3" />
<line x1="219.40" y1="105.65" x2="223.70" y2="105.65" stroke="#333333" stroke-width="1.3" />
<line x1="219.40" y1="148.60" x2="223.70" y2="148.60" stroke="#333333" stroke-width="1.3" />
<line x1="236.80" y1="190.50" x2="236.80" y2="194.80" stroke="#333333" stroke-width="1.3" />
<line x1="258.50" y1="190.50" x2="258.50" y2="194.80" stroke="#333333" stroke-width="1.3" />
<line x1="362.80" y1="56.09" x2="402.40" y2="56.09" stroke="#EBEBEB" stroke-width="0.75" />
<line x1="362.80" y1="94.86" x2="402.40" y2="94.86" stroke="#EBEBEB" stroke-width="0.75" />
<line x1="362.80" y1="133.62" x2="402.40" y2="133.62" stroke="#EBEBEB" stroke-width="0.75" />
<line x1="362.80" y1="172.40" x2="402.40" y2="172.40" stroke="#EBEBEB" stroke-width="0.75" />
<line x1="362.80" y1="36.70" x2="402.40" y2="36.70" stroke="#EBEBEB" stroke-width="1.3" />
<line x1="362.80" y1="75.47" x2="402.40" y2="75.47" stroke="#EBEBEB" stroke-width="1.3" />
<line x1="362.80" y1="114.24" x2="402.40" y2="114.24" stroke="#EBEBEB" stroke-width="1.3" />
<line x1="362.80" y1="153.01" x2="402.40" y2="153.01" stroke="#EBEBEB" stroke-width="1.3" />
<line x1="373.30" y1="23.50" x2="373.30" y2="190.50" stroke="#EBEBEB" stroke-width="1.3" />
<line x1="391.70" y1="23.50" x2="391.70" y2="190.50" stroke="#EBEBEB" stroke-width="1.3" />
<line x1="373.30" y1="110.90" x2="373.30" y2="141.80" stroke="#262626" stroke-width="1.5" />
<line x1="373.30" y1="171.60" x2="373.30" y2="184.50" stroke="#262626" stroke-width="1.5" />
<rect x="366.30" y="141.80" width="14.20" height="29.80" fill="#fff" stroke="#2b2b2b" stroke-width="1.5"/>
<line x1="366.30" y1="158.00" x2="380.50" y2="158.00" stroke="#222" stroke-width="2.6" />
<line x1="391.70" y1="118.00" x2="391.70" y2="149.20" stroke="#262626" stroke-width="1.5" />
<line x1="391.70" y1="170.20" x2="391.70" y2="184.00" stroke="#262626" stroke-width="1.5" />
<rect x="384.60" y="149.20" width="14.00" height="21.00" fill="#fff" stroke="#2b2b2b" stroke-width="1.5"/>
<line x1="384.60" y1="160.50" x2="398.60" y2="160.50" stroke="#222" stroke-width="2.6" />
<circle cx="370.6" cy="53.4" r="3.0" fill="rgba(0,0,0,0.5)" stroke="rgba(0,0,0,0.65)" stroke-width="1.0"/>
<circle cx="376.4" cy="91.1" r="3.0" fill="rgba(0,0,0,0.5)" stroke="rgba(0,0,0,0.65)" stroke-width="1.0"/>
<circle cx="375.8" cy="96.0" r="3.0" fill="rgba(0,0,0,0.5)" stroke="rgba(0,0,0,0.65)" stroke-width="1.0"/>
<circle cx="371.5" cy="112.1" r="3.0" fill="rgba(0,0,0,0.5)" stroke="rgba(0,0,0,0.65)" stroke-width="1.0"/>
<circle cx="374.6" cy="111.9" r="3.0" fill="rgba(0,0,0,0.5)" stroke="rgba(0,0,0,0.65)" stroke-width="1.0"/>
<circle cx="369.6" cy="118.1" r="3.0" fill="rgba(0,0,0,0.5)" stroke="rgba(0,0,0,0.65)" stroke-width="1.0"/>
<circle cx="375.2" cy="118.3" r="3.0" fill="rgba(0,0,0,0.5)" stroke="rgba(0,0,0,0.65)" stroke-width="1.0"/>
<circle cx="369.6" cy="125.5" r="3.0" fill="rgba(0,0,0,0.5)" stroke="rgba(0,0,0,0.65)" stroke-width="1.0"/>
<circle cx="373.3" cy="125.8" r="3.0" fill="rgba(0,0,0,0.5)" stroke="rgba(0,0,0,0.65)" stroke-width="1.0"/>
<circle cx="371.5" cy="132.0" r="3.0" fill="rgba(0,0,0,0.5)" stroke="rgba(0,0,0,0.65)" stroke-width="1.0"/>
<circle cx="374.6" cy="131.3" r="3.0" fill="rgba(0,0,0,0.5)" stroke="rgba(0,0,0,0.65)" stroke-width="1.0"/>
<circle cx="372.0" cy="136.0" r="3.0" fill="rgba(0,0,0,0.5)" stroke="rgba(0,0,0,0.65)" stroke-width="1.0"/>
<circle cx="375.0" cy="138.0" r="3.0" fill="rgba(0,0,0,0.5)" stroke="rgba(0,0,0,0.65)" stroke-width="1.0"/>
<circle cx="372.0" cy="145.1" r="3.0" fill="rgba(0,0,0,0.5)" stroke="rgba(0,0,0,0.65)" stroke-width="1.0"/>
<circle cx="374.4" cy="141.4" r="3.0" fill="rgba(0,0,0,0.5)" stroke="rgba(0,0,0,0.65)" stroke-width="1.0"/>
<circle cx="373.6" cy="155.2" r="3.0" fill="rgba(0,0,0,0.5)" stroke="rgba(0,0,0,0.65)" stroke-width="1.0"/>
<circle cx="370.0" cy="161.8" r="3.0" fill="rgba(0,0,0,0.5)" stroke="rgba(0,0,0,0.65)" stroke-width="1.0"/>
<circle cx="369.9" cy="158.4" r="3.0" fill="rgba(0,0,0,0.5)" stroke="rgba(0,0,0,0.65)" stroke-width="1.0"/>
<circle cx="370.1" cy="142.3" r="3.0" fill="rgba(0,0,0,0.5)" stroke="rgba(0,0,0,0.65)" stroke-width="1.0"/>
<circle cx="372.7" cy="176.9" r="3.0" fill="rgba(0,0,0,0.5)" stroke="rgba(0,0,0,0.65)" stroke-width="1.0"/>
<circle cx="370.5" cy="148.5" r="3.0" fill="rgba(0,0,0,0.5)" stroke="rgba(0,0,0,0.65)" stroke-width="1.0"/>
<circle cx="374.2" cy="182.5" r="3.0" fill="rgba(0,0,0,0.5)" stroke="rgba(0,0,0,0.65)" stroke-width="1.0"/>
<circle cx="373.9" cy="156.6" r="3.0" fill="rgba(0,0,0,0.5)" stroke="rgba(0,0,0,0.65)" stroke-width="1.0"/>
<circle cx="376.8" cy="140.2" r="3.0" fill="rgba(0,0,0,0.5)" stroke="rgba(0,0,0,0.65)" stroke-width="1.0"/>
<circle cx="376.0" cy="151.6" r="3.0" fill="rgba(0,0,0,0.5)" stroke="rgba(0,0,0,0.65)" stroke-width="1.0"/>
<circle cx="370.7" cy="143.5" r="3.0" fill="rgba(0,0,0,0.5)" stroke="rgba(0,0,0,0.65)" stroke-width="1.0"/>
<circle cx="371.9" cy="176.4" r="3.0" fill="rgba(0,0,0,0.5)" stroke="rgba(0,0,0,0.65)" stroke-width="1.0"/>
<circle cx="370.9" cy="165.3" r="3.0" fill="rgba(0,0,0,0.5)" stroke="rgba(0,0,0,0.65)" stroke-width="1.0"/>
<circle cx="374.3" cy="155.5" r="3.0" fill="rgba(0,0,0,0.5)" stroke="rgba(0,0,0,0.65)" stroke-width="1.0"/>
<circle cx="373.7" cy="141.0" r="3.0" fill="rgba(0,0,0,0.5)" stroke="rgba(0,0,0,0.65)" stroke-width="1.0"/>
<circle cx="370.0" cy="147.7" r="3.0" fill="rgba(0,0,0,0.5)" stroke="rgba(0,0,0,0.65)" stroke-width="1.0"/>
<circle cx="374.6" cy="158.1" r="3.0" fill="rgba(0,0,0,0.5)" stroke="rgba(0,0,0,0.65)" stroke-width="1.0"/>
<circle cx="371.9" cy="165.5" r="3.0" fill="rgba(0,0,0,0.5)" stroke="rgba(0,0,0,0.65)" stroke-width="1.0"/>
<circle cx="373.0" cy="152.1" r="3.0" fill="rgba(0,0,0,0.5)" stroke="rgba(0,0,0,0.65)" stroke-width="1.0"/>
<circle cx="375.5" cy="170.9" r="3.0" fill="rgba(0,0,0,0.5)" stroke="rgba(0,0,0,0.65)" stroke-width="1.0"/>
<circle cx="371.4" cy="165.0" r="3.0" fill="rgba(0,0,0,0.5)" stroke="rgba(0,0,0,0.65)" stroke-width="1.0"/>
<circle cx="373.5" cy="179.1" r="3.0" fill="rgba(0,0,0,0.5)" stroke="rgba(0,0,0,0.65)" stroke-width="1.0"/>
<circle cx="375.0" cy="151.5" r="3.0" fill="rgba(0,0,0,0.5)" stroke="rgba(0,0,0,0.65)" stroke-width="1.0"/>
<circle cx="376.9" cy="143.5" r="3.0" fill="rgba(0,0,0,0.5)" stroke="rgba(0,0,0,0.65)" stroke-width="1.0"/>
<circle cx="372.7" cy="173.6" r="3.0" fill="rgba(0,0,0,0.5)" stroke="rgba(0,0,0,0.65)" stroke-width="1.0"/>
<circle cx="370.7" cy="161.0" r="3.0" fill="rgba(0,0,0,0.5)" stroke="rgba(0,0,0,0.65)" stroke-width="1.0"/>
<circle cx="369.9" cy="169.4" r="3.0" fill="rgba(0,0,0,0.5)" stroke="rgba(0,0,0,0.65)" stroke-width="1.0"/>
<circle cx="375.3" cy="164.9" r="3.0" fill="rgba(0,0,0,0.5)" stroke="rgba(0,0,0,0.65)" stroke-width="1.0"/>
<circle cx="376.1" cy="152.7" r="3.0" fill="rgba(0,0,0,0.5)" stroke="rgba(0,0,0,0.65)" stroke-width="1.0"/>
<circle cx="374.7" cy="165.9" r="3.0" fill="rgba(0,0,0,0.5)" stroke="rgba(0,0,0,0.65)" stroke-width="1.0"/>
<circle cx="373.9" cy="159.4" r="3.0" fill="rgba(0,0,0,0.5)" stroke="rgba(0,0,0,0.65)" stroke-width="1.0"/>
<circle cx="375.8" cy="182.4" r="3.0" fill="rgba(0,0,0,0.5)" stroke="rgba(0,0,0,0.65)" stroke-width="1.0"/>
<circle cx="373.1" cy="169.2" r="3.0" fill="rgba(0,0,0,0.5)" stroke="rgba(0,0,0,0.65)" stroke-width="1.0"/>
<circle cx="370.0" cy="171.0" r="3.0" fill="rgba(0,0,0,0.5)" stroke="rgba(0,0,0,0.65)" stroke-width="1.0"/>
<circle cx="374.4" cy="184.7" r="3.0" fill="rgba(0,0,0,0.5)" stroke="rgba(0,0,0,0.65)" stroke-width="1.0"/>
<circle cx="375.7" cy="151.4" r="3.0" fill="rgba(0,0,0,0.5)" stroke="rgba(0,0,0,0.65)" stroke-width="1.0"/>
<circle cx="372.5" cy="169.4" r="3.0" fill="rgba(0,0,0,0.5)" stroke="rgba(0,0,0,0.65)" stroke-width="1.0"/>
<circle cx="369.8" cy="159.7" r="3.0" fill="rgba(0,0,0,0.5)" stroke="rgba(0,0,0,0.65)" stroke-width="1.0"/>
<circle cx="373.8" cy="160.6" r="3.0" fill="rgba(0,0,0,0.5)" stroke="rgba(0,0,0,0.65)" stroke-width="1.0"/>
<circle cx="375.8" cy="149.6" r="3.0" fill="rgba(0,0,0,0.5)" stroke="rgba(0,0,0,0.65)" stroke-width="1.0"/>
<circle cx="374.5" cy="168.6" r="3.0" fill="rgba(0,0,0,0.5)" stroke="rgba(0,0,0,0.65)" stroke-width="1.0"/>
<circle cx="376.5" cy="146.8" r="3.0" fill="rgba(0,0,0,0.5)" stroke="rgba(0,0,0,0.65)" stroke-width="1.0"/>
<circle cx="374.5" cy="160.1" r="3.0" fill="rgba(0,0,0,0.5)" stroke="rgba(0,0,0,0.65)" stroke-width="1.0"/>
<circle cx="373.3" cy="171.0" r="3.0" fill="rgba(0,0,0,0.5)" stroke="rgba(0,0,0,0.65)" stroke-width="1.0"/>
<circle cx="373.5" cy="154.8" r="3.0" fill="rgba(0,0,0,0.5)" stroke="rgba(0,0,0,0.65)" stroke-width="1.0"/>
<circle cx="376.8" cy="160.7" r="3.0" fill="rgba(0,0,0,0.5)" stroke="rgba(0,0,0,0.65)" stroke-width="1.0"/>
<circle cx="371.8" cy="150.6" r="3.0" fill="rgba(0,0,0,0.5)" stroke="rgba(0,0,0,0.65)" stroke-width="1.0"/>
<circle cx="373.3" cy="142.6" r="3.0" fill="rgba(0,0,0,0.5)" stroke="rgba(0,0,0,0.65)" stroke-width="1.0"/>
<circle cx="374.1" cy="163.8" r="3.0" fill="rgba(0,0,0,0.5)" stroke="rgba(0,0,0,0.65)" stroke-width="1.0"/>
<circle cx="372.7" cy="167.2" r="3.0" fill="rgba(0,0,0,0.5)" stroke="rgba(0,0,0,0.65)" stroke-width="1.0"/>
<circle cx="376.6" cy="158.2" r="3.0" fill="rgba(0,0,0,0.5)" stroke="rgba(0,0,0,0.65)" stroke-width="1.0"/>
<circle cx="374.7" cy="144.6" r="3.0" fill="rgba(0,0,0,0.5)" stroke="rgba(0,0,0,0.65)" stroke-width="1.0"/>
<circle cx="369.8" cy="171.4" r="3.0" fill="rgba(0,0,0,0.5)" stroke="rgba(0,0,0,0.65)" stroke-width="1.0"/>
<circle cx="371.6" cy="147.6" r="3.0" fill="rgba(0,0,0,0.5)" stroke="rgba(0,0,0,0.65)" stroke-width="1.0"/>
<circle cx="389.4" cy="31.1" r="3.0" fill="rgba(0,0,0,0.5)" stroke="rgba(0,0,0,0.65)" stroke-width="1.0"/>
<circle cx="394.4" cy="113.4" r="3.0" fill="rgba(0,0,0,0.5)" stroke="rgba(0,0,0,0.65)" stroke-width="1.0"/>
<circle cx="388.3" cy="119.9" r="3.0" fill="rgba(0,0,0,0.5)" stroke="rgba(0,0,0,0.65)" stroke-width="1.0"/>
<circle cx="394.4" cy="120.2" r="3.0" fill="rgba(0,0,0,0.5)" stroke="rgba(0,0,0,0.65)" stroke-width="1.0"/>
<circle cx="388.8" cy="129.5" r="3.0" fill="rgba(0,0,0,0.5)" stroke="rgba(0,0,0,0.65)" stroke-width="1.0"/>
<circle cx="393.1" cy="128.5" r="3.0" fill="rgba(0,0,0,0.5)" stroke="rgba(0,0,0,0.65)" stroke-width="1.0"/>
<circle cx="394.4" cy="134.2" r="3.0" fill="rgba(0,0,0,0.5)" stroke="rgba(0,0,0,0.65)" stroke-width="1.0"/>
<circle cx="391.8" cy="135.6" r="3.0" fill="rgba(0,0,0,0.5)" stroke="rgba(0,0,0,0.65)" stroke-width="1.0"/>
<circle cx="388.3" cy="142.6" r="3.0" fill="rgba(0,0,0,0.5)" stroke="rgba(0,0,0,0.65)" stroke-width="1.0"/>
<circle cx="389.7" cy="182.3" r="3.0" fill="rgba(0,0,0,0.5)" stroke="rgba(0,0,0,0.65)" stroke-width="1.0"/>
<circle cx="388.9" cy="171.0" r="3.0" fill="rgba(0,0,0,0.5)" stroke="rgba(0,0,0,0.65)" stroke-width="1.0"/>
<circle cx="388.6" cy="150.9" r="3.0" fill="rgba(0,0,0,0.5)" stroke="rgba(0,0,0,0.65)" stroke-width="1.0"/>
<circle cx="395.4" cy="149.2" r="3.0" fill="rgba(0,0,0,0.5)" stroke="rgba(0,0,0,0.65)" stroke-width="1.0"/>
<circle cx="392.7" cy="160.2" r="3.0" fill="rgba(0,0,0,0.5)" stroke="rgba(0,0,0,0.65)" stroke-width="1.0"/>
<circle cx="391.4" cy="161.8" r="3.0" fill="rgba(0,0,0,0.5)" stroke="rgba(0,0,0,0.65)" stroke-width="1.0"/>
<circle cx="389.4" cy="176.5" r="3.0" fill="rgba(0,0,0,0.5)" stroke="rgba(0,0,0,0.65)" stroke-width="1.0"/>
<circle cx="388.7" cy="150.3" r="3.0" fill="rgba(0,0,0,0.5)" stroke="rgba(0,0,0,0.65)" stroke-width="1.0"/>
<circle cx="388.1" cy="151.7" r="3.0" fill="rgba(0,0,0,0.5)" stroke="rgba(0,0,0,0.65)" stroke-width="1.0"/>
<circle cx="391.0" cy="179.7" r="3.0" fill="rgba(0,0,0,0.5)" stroke="rgba(0,0,0,0.65)" stroke-width="1.0"/>
<circle cx="390.8" cy="145.0" r="3.0" fill="rgba(0,0,0,0.5)" stroke="rgba(0,0,0,0.65)" stroke-width="1.0"/>
<circle cx="389.9" cy="183.6" r="3.0" fill="rgba(0,0,0,0.5)" stroke="rgba(0,0,0,0.65)" stroke-width="1.0"/>
<circle cx="388.5" cy="167.3" r="3.0" fill="rgba(0,0,0,0.5)" stroke="rgba(0,0,0,0.65)" stroke-width="1.0"/>
<circle cx="390.8" cy="169.1" r="3.0" fill="rgba(0,0,0,0.5)" stroke="rgba(0,0,0,0.65)" stroke-width="1.0"/>
<circle cx="390.5" cy="170.4" r="3.0" fill="rgba(0,0,0,0.5)" stroke="rgba(0,0,0,0.65)" stroke-width="1.0"/>
<circle cx="391.7" cy="168.6" r="3.0" fill="rgba(0,0,0,0.5)" stroke="rgba(0,0,0,0.65)" stroke-width="1.0"/>
<circle cx="394.7" cy="165.6" r="3.0" fill="rgba(0,0,0,0.5)" stroke="rgba(0,0,0,0.65)" stroke-width="1.0"/>
<circle cx="389.1" cy="142.8" r="3.0" fill="rgba(0,0,0,0.5)" stroke="rgba(0,0,0,0.65)" stroke-width="1.0"/>
<circle cx="395.0" cy="161.5" r="3.0" fill="rgba(0,0,0,0.5)" stroke="rgba(0,0,0,0.65)" stroke-width="1.0"/>
<circle cx="389.4" cy="181.6" r="3.0" fill="rgba(0,0,0,0.5)" stroke="rgba(0,0,0,0.65)" stroke-width="1.0"/>
<circle cx="392.3" cy="172.1" r="3.0" fill="rgba(0,0,0,0.5)" stroke="rgba(0,0,0,0.65)" stroke-width="1.0"/>
<circle cx="394.5" cy="152.6" r="3.0" fill="rgba(0,0,0,0.5)" stroke="rgba(0,0,0,0.65)" stroke-width="1.0"/>
<circle cx="390.6" cy="178.6" r="3.0" fill="rgba(0,0,0,0.5)" stroke="rgba(0,0,0,0.65)" stroke-width="1.0"/>
<circle cx="389.0" cy="173.6" r="3.0" fill="rgba(0,0,0,0.5)" stroke="rgba(0,0,0,0.65)" stroke-width="1.0"/>
<circle cx="388.7" cy="170.4" r="3.0" fill="rgba(0,0,0,0.5)" stroke="rgba(0,0,0,0.65)" stroke-width="1.0"/>
<circle cx="393.2" cy="181.8" r="3.0" fill="rgba(0,0,0,0.5)" stroke="rgba(0,0,0,0.65)" stroke-width="1.0"/>
<circle cx="394.2" cy="162.2" r="3.0" fill="rgba(0,0,0,0.5)" stroke="rgba(0,0,0,0.65)" stroke-width="1.0"/>
<circle cx="389.5" cy="146.6" r="3.0" fill="rgba(0,0,0,0.5)" stroke="rgba(0,0,0,0.65)" stroke-width="1.0"/>
<circle cx="391.9" cy="162.4" r="3.0" fill="rgba(0,0,0,0.5)" stroke="rgba(0,0,0,0.65)" stroke-width="1.0"/>
<circle cx="388.5" cy="179.7" r="3.0" fill="rgba(0,0,0,0.5)" stroke="rgba(0,0,0,0.65)" stroke-width="1.0"/>
<circle cx="391.8" cy="170.9" r="3.0" fill="rgba(0,0,0,0.5)" stroke="rgba(0,0,0,0.65)" stroke-width="1.0"/>
<circle cx="389.6" cy="150.7" r="3.0" fill="rgba(0,0,0,0.5)" stroke="rgba(0,0,0,0.65)" stroke-width="1.0"/>
<circle cx="388.1" cy="155.1" r="3.0" fill="rgba(0,0,0,0.5)" stroke="rgba(0,0,0,0.65)" stroke-width="1.0"/>
<circle cx="390.0" cy="158.6" r="3.0" fill="rgba(0,0,0,0.5)" stroke="rgba(0,0,0,0.65)" stroke-width="1.0"/>
<circle cx="390.8" cy="176.7" r="3.0" fill="rgba(0,0,0,0.5)" stroke="rgba(0,0,0,0.65)" stroke-width="1.0"/>
<circle cx="394.6" cy="147.7" r="3.0" fill="rgba(0,0,0,0.5)" stroke="rgba(0,0,0,0.65)" stroke-width="1.0"/>
<circle cx="390.9" cy="147.3" r="3.0" fill="rgba(0,0,0,0.5)" stroke="rgba(0,0,0,0.65)" stroke-width="1.0"/>
<circle cx="392.9" cy="182.9" r="3.0" fill="rgba(0,0,0,0.5)" stroke="rgba(0,0,0,0.65)" stroke-width="1.0"/>
<circle cx="389.5" cy="173.7" r="3.0" fill="rgba(0,0,0,0.5)" stroke="rgba(0,0,0,0.65)" stroke-width="1.0"/>
<circle cx="390.2" cy="140.6" r="3.0" fill="rgba(0,0,0,0.5)" stroke="rgba(0,0,0,0.65)" stroke-width="1.0"/>
<circle cx="391.9" cy="161.9" r="3.0" fill="rgba(0,0,0,0.5)" stroke="rgba(0,0,0,0.65)" stroke-width="1.0"/>
<circle cx="394.4" cy="168.8" r="3.0" fill="rgba(0,0,0,0.5)" stroke="rgba(0,0,0,0.65)" stroke-width="1.0"/>
<circle cx="394.7" cy="157.0" r="3.0" fill="rgba(0,0,0,0.5)" stroke="rgba(0,0,0,0.65)" stroke-width="1.0"/>
<circle cx="395.2" cy="158.3" r="3.0" fill="rgba(0,0,0,0.5)" stroke="rgba(0,0,0,0.65)" stroke-width="1.0"/>
<circle cx="390.2" cy="151.1" r="3.0" fill="rgba(0,0,0,0.5)" stroke="rgba(0,0,0,0.65)" stroke-width="1.0"/>
<circle cx="391.8" cy="152.4" r="3.0" fill="rgba(0,0,0,0.5)" stroke="rgba(0,0,0,0.65)" stroke-width="1.0"/>
<circle cx="389.9" cy="162.4" r="3.0" fill="rgba(0,0,0,0.5)" stroke="rgba(0,0,0,0.65)" stroke-width="1.0"/>
<circle cx="393.9" cy="165.6" r="3.0" fill="rgba(0,0,0,0.5)" stroke="rgba(0,0,0,0.65)" stroke-width="1.0"/>
<circle cx="388.5" cy="150.3" r="3.0" fill="rgba(0,0,0,0.5)" stroke="rgba(0,0,0,0.65)" stroke-width="1.0"/>
<circle cx="389.8" cy="161.1" r="3.0" fill="rgba(0,0,0,0.5)" stroke="rgba(0,0,0,0.65)" stroke-width="1.0"/>
<circle cx="394.3" cy="166.6" r="3.0" fill="rgba(0,0,0,0.5)" stroke="rgba(0,0,0,0.65)" stroke-width="1.0"/>
<circle cx="395.1" cy="162.0" r="3.0" fill="rgba(0,0,0,0.5)" stroke="rgba(0,0,0,0.65)" stroke-width="1.0"/>
<circle cx="392.8" cy="155.4" r="3.0" fill="rgba(0,0,0,0.5)" stroke="rgba(0,0,0,0.65)" stroke-width="1.0"/>
<circle cx="390.2" cy="153.5" r="3.0" fill="rgba(0,0,0,0.5)" stroke="rgba(0,0,0,0.65)" stroke-width="1.0"/>
<circle cx="392.0" cy="162.4" r="3.0" fill="rgba(0,0,0,0.5)" stroke="rgba(0,0,0,0.65)" stroke-width="1.0"/>
<circle cx="392.3" cy="157.6" r="3.0" fill="rgba(0,0,0,0.5)" stroke="rgba(0,0,0,0.65)" stroke-width="1.0"/>
<path d="M373.30 146.00L379.90 152.60L373.30 159.20L366.70 152.60Z" fill="#8B0000"/>
<path d="M391.70 149.10L398.30 155.70L391.70 162.30L385.10 155.70Z" fill="#8B0000"/>
<rect x="362.80" y="23.50" width="39.60" height="167.00" fill="none" stroke="#3d3d3d" stroke-width="1.2"/>
<line x1="358.50" y1="36.70" x2="362.80" y2="36.70" stroke="#333333" stroke-width="1.3" />
<line x1="358.50" y1="75.47" x2="362.80" y2="75.47" stroke="#333333" stroke-width="1.3" />
<line x1="358.50" y1="114.24" x2="362.80" y2="114.24" stroke="#333333" stroke-width="1.3" />
<line x1="358.50" y1="153.01" x2="362.80" y2="153.01" stroke="#333333" stroke-width="1.3" />
<line x1="373.30" y1="190.50" x2="373.30" y2="194.80" stroke="#333333" stroke-width="1.3" />
<line x1="391.70" y1="190.50" x2="391.70" y2="194.80" stroke="#333333" stroke-width="1.3" />
<line x1="466.00" y1="53.50" x2="533.50" y2="53.50" stroke="#EBEBEB" stroke-width="0.75" />
<line x1="466.00" y1="102.50" x2="533.50" y2="102.50" stroke="#EBEBEB" stroke-width="0.75" />
<line x1="466.00" y1="151.50" x2="533.50" y2="151.50" stroke="#EBEBEB" stroke-width="0.75" />
<line x1="466.00" y1="29.00" x2="533.50" y2="29.00" stroke="#EBEBEB" stroke-width="1.3" />
<line x1="466.00" y1="78.00" x2="533.50" y2="78.00" stroke="#EBEBEB" stroke-width="1.3" />
<line x1="466.00" y1="127.00" x2="533.50" y2="127.00" stroke="#EBEBEB" stroke-width="1.3" />
<line x1="466.00" y1="176.00" x2="533.50" y2="176.00" stroke="#EBEBEB" stroke-width="1.3" />
<line x1="484.30" y1="23.50" x2="484.30" y2="190.50" stroke="#EBEBEB" stroke-width="1.3" />
<line x1="515.30" y1="23.50" x2="515.30" y2="190.50" stroke="#EBEBEB" stroke-width="1.3" />
<line x1="484.30" y1="34.20" x2="484.30" y2="67.00" stroke="#262626" stroke-width="1.5" />
<line x1="484.30" y1="122.60" x2="484.30" y2="183.00" stroke="#262626" stroke-width="1.5" />
<rect x="472.50" y="67.00" width="23.50" height="55.60" fill="#fff" stroke="#2b2b2b" stroke-width="1.5"/>
<line x1="472.50" y1="95.40" x2="496.00" y2="95.40" stroke="#222" stroke-width="2.6" />
<line x1="515.30" y1="64.60" x2="515.30" y2="100.70" stroke="#262626" stroke-width="1.5" />
<line x1="515.30" y1="129.20" x2="515.30" y2="166.70" stroke="#262626" stroke-width="1.5" />
<rect x="503.60" y="100.70" width="23.40" height="28.50" fill="#fff" stroke="#2b2b2b" stroke-width="1.5"/>
<line x1="503.60" y1="115.20" x2="527.00" y2="115.20" stroke="#222" stroke-width="2.6" />
<circle cx="485.3" cy="33.4" r="3.0" fill="rgba(0,0,0,0.5)" stroke="rgba(0,0,0,0.65)" stroke-width="1.0"/>
<circle cx="481.8" cy="37.9" r="3.0" fill="rgba(0,0,0,0.5)" stroke="rgba(0,0,0,0.65)" stroke-width="1.0"/>
<circle cx="484.9" cy="40.0" r="3.0" fill="rgba(0,0,0,0.5)" stroke="rgba(0,0,0,0.65)" stroke-width="1.0"/>
<circle cx="478.7" cy="46.0" r="3.0" fill="rgba(0,0,0,0.5)" stroke="rgba(0,0,0,0.65)" stroke-width="1.0"/>
<circle cx="478.1" cy="48.7" r="3.0" fill="rgba(0,0,0,0.5)" stroke="rgba(0,0,0,0.65)" stroke-width="1.0"/>
<circle cx="484.3" cy="50.9" r="3.0" fill="rgba(0,0,0,0.5)" stroke="rgba(0,0,0,0.65)" stroke-width="1.0"/>
<circle cx="490.2" cy="51.9" r="3.0" fill="rgba(0,0,0,0.5)" stroke="rgba(0,0,0,0.65)" stroke-width="1.0"/>
<circle cx="484.5" cy="56.5" r="3.0" fill="rgba(0,0,0,0.5)" stroke="rgba(0,0,0,0.65)" stroke-width="1.0"/>
<circle cx="481.8" cy="62.1" r="3.0" fill="rgba(0,0,0,0.5)" stroke="rgba(0,0,0,0.65)" stroke-width="1.0"/>
<circle cx="488.6" cy="62.1" r="3.0" fill="rgba(0,0,0,0.5)" stroke="rgba(0,0,0,0.65)" stroke-width="1.0"/>
<circle cx="484.3" cy="65.8" r="3.0" fill="rgba(0,0,0,0.5)" stroke="rgba(0,0,0,0.65)" stroke-width="1.0"/>
<circle cx="489.8" cy="66.0" r="3.0" fill="rgba(0,0,0,0.5)" stroke="rgba(0,0,0,0.65)" stroke-width="1.0"/>
<circle cx="480.6" cy="67.0" r="3.0" fill="rgba(0,0,0,0.5)" stroke="rgba(0,0,0,0.65)" stroke-width="1.0"/>
<circle cx="481.8" cy="71.4" r="3.0" fill="rgba(0,0,0,0.5)" stroke="rgba(0,0,0,0.65)" stroke-width="1.0"/>
<circle cx="486.1" cy="70.7" r="3.0" fill="rgba(0,0,0,0.5)" stroke="rgba(0,0,0,0.65)" stroke-width="1.0"/>
<circle cx="480.6" cy="74.5" r="3.0" fill="rgba(0,0,0,0.5)" stroke="rgba(0,0,0,0.65)" stroke-width="1.0"/>
<circle cx="487.4" cy="75.1" r="3.0" fill="rgba(0,0,0,0.5)" stroke="rgba(0,0,0,0.65)" stroke-width="1.0"/>
<circle cx="478.1" cy="78.8" r="3.0" fill="rgba(0,0,0,0.5)" stroke="rgba(0,0,0,0.65)" stroke-width="1.0"/>
<circle cx="485.5" cy="78.2" r="3.0" fill="rgba(0,0,0,0.5)" stroke="rgba(0,0,0,0.65)" stroke-width="1.0"/>
<circle cx="478.7" cy="80.0" r="3.0" fill="rgba(0,0,0,0.5)" stroke="rgba(0,0,0,0.65)" stroke-width="1.0"/>
<circle cx="483.7" cy="81.8" r="3.0" fill="rgba(0,0,0,0.5)" stroke="rgba(0,0,0,0.65)" stroke-width="1.0"/>
<circle cx="488.0" cy="76.9" r="3.0" fill="rgba(0,0,0,0.5)" stroke="rgba(0,0,0,0.65)" stroke-width="1.0"/>
<circle cx="478.7" cy="88.0" r="3.0" fill="rgba(0,0,0,0.5)" stroke="rgba(0,0,0,0.65)" stroke-width="1.0"/>
<circle cx="486.1" cy="87.4" r="3.0" fill="rgba(0,0,0,0.5)" stroke="rgba(0,0,0,0.65)" stroke-width="1.0"/>
<circle cx="478.1" cy="91.1" r="3.0" fill="rgba(0,0,0,0.5)" stroke="rgba(0,0,0,0.65)" stroke-width="1.0"/>
<circle cx="486.8" cy="89.9" r="3.0" fill="rgba(0,0,0,0.5)" stroke="rgba(0,0,0,0.65)" stroke-width="1.0"/>
<circle cx="478.1" cy="101.6" r="3.0" fill="rgba(0,0,0,0.5)" stroke="rgba(0,0,0,0.65)" stroke-width="1.0"/>
<circle cx="481.2" cy="104.7" r="3.0" fill="rgba(0,0,0,0.5)" stroke="rgba(0,0,0,0.65)" stroke-width="1.0"/>
<circle cx="479.3" cy="105.9" r="3.0" fill="rgba(0,0,0,0.5)" stroke="rgba(0,0,0,0.65)" stroke-width="1.0"/>
<circle cx="484.3" cy="107.4" r="3.0" fill="rgba(0,0,0,0.5)" stroke="rgba(0,0,0,0.65)" stroke-width="1.0"/>
<circle cx="488.0" cy="110.3" r="3.0" fill="rgba(0,0,0,0.5)" stroke="rgba(0,0,0,0.65)" stroke-width="1.0"/>
<circle cx="487.4" cy="114.0" r="3.0" fill="rgba(0,0,0,0.5)" stroke="rgba(0,0,0,0.65)" stroke-width="1.0"/>
<circle cx="478.7" cy="115.2" r="3.0" fill="rgba(0,0,0,0.5)" stroke="rgba(0,0,0,0.65)" stroke-width="1.0"/>
<circle cx="483.0" cy="114.6" r="3.0" fill="rgba(0,0,0,0.5)" stroke="rgba(0,0,0,0.65)" stroke-width="1.0"/>
<circle cx="479.9" cy="118.9" r="3.0" fill="rgba(0,0,0,0.5)" stroke="rgba(0,0,0,0.65)" stroke-width="1.0"/>
<circle cx="478.1" cy="123.9" r="3.0" fill="rgba(0,0,0,0.5)" stroke="rgba(0,0,0,0.65)" stroke-width="1.0"/>
<circle cx="483.7" cy="124.5" r="3.0" fill="rgba(0,0,0,0.5)" stroke="rgba(0,0,0,0.65)" stroke-width="1.0"/>
<circle cx="489.8" cy="125.7" r="3.0" fill="rgba(0,0,0,0.5)" stroke="rgba(0,0,0,0.65)" stroke-width="1.0"/>
<circle cx="483.7" cy="129.5" r="3.0" fill="rgba(0,0,0,0.5)" stroke="rgba(0,0,0,0.65)" stroke-width="1.0"/>
<circle cx="486.1" cy="128.2" r="3.0" fill="rgba(0,0,0,0.5)" stroke="rgba(0,0,0,0.65)" stroke-width="1.0"/>
<circle cx="484.1" cy="129.4" r="3.0" fill="rgba(0,0,0,0.5)" stroke="rgba(0,0,0,0.65)" stroke-width="1.0"/>
<circle cx="489.6" cy="128.0" r="3.0" fill="rgba(0,0,0,0.5)" stroke="rgba(0,0,0,0.65)" stroke-width="1.0"/>
<circle cx="480.0" cy="138.8" r="3.0" fill="rgba(0,0,0,0.5)" stroke="rgba(0,0,0,0.65)" stroke-width="1.0"/>
<circle cx="485.5" cy="141.8" r="3.0" fill="rgba(0,0,0,0.5)" stroke="rgba(0,0,0,0.65)" stroke-width="1.0"/>
<circle cx="480.0" cy="144.9" r="3.0" fill="rgba(0,0,0,0.5)" stroke="rgba(0,0,0,0.65)" stroke-width="1.0"/>
<circle cx="486.2" cy="145.3" r="3.0" fill="rgba(0,0,0,0.5)" stroke="rgba(0,0,0,0.65)" stroke-width="1.0"/>
<circle cx="484.1" cy="144.3" r="3.0" fill="rgba(0,0,0,0.5)" stroke="rgba(0,0,0,0.65)" stroke-width="1.0"/>
<circle cx="480.0" cy="150.4" r="3.0" fill="rgba(0,0,0,0.5)" stroke="rgba(0,0,0,0.65)" stroke-width="1.0"/>
<circle cx="479.3" cy="159.8" r="3.0" fill="rgba(0,0,0,0.5)" stroke="rgba(0,0,0,0.65)" stroke-width="1.0"/>
<circle cx="478.3" cy="173.6" r="3.0" fill="rgba(0,0,0,0.5)" stroke="rgba(0,0,0,0.65)" stroke-width="1.0"/>
<circle cx="481.3" cy="175.7" r="3.0" fill="rgba(0,0,0,0.5)" stroke="rgba(0,0,0,0.65)" stroke-width="1.0"/>
<circle cx="483.4" cy="183.5" r="3.0" fill="rgba(0,0,0,0.5)" stroke="rgba(0,0,0,0.65)" stroke-width="1.0"/>
<circle cx="511.3" cy="30.9" r="3.0" fill="rgba(0,0,0,0.5)" stroke="rgba(0,0,0,0.65)" stroke-width="1.0"/>
<circle cx="509.6" cy="50.7" r="3.0" fill="rgba(0,0,0,0.5)" stroke="rgba(0,0,0,0.65)" stroke-width="1.0"/>
<circle cx="509.6" cy="63.9" r="3.0" fill="rgba(0,0,0,0.5)" stroke="rgba(0,0,0,0.65)" stroke-width="1.0"/>
<circle cx="509.0" cy="67.6" r="3.0" fill="rgba(0,0,0,0.5)" stroke="rgba(0,0,0,0.65)" stroke-width="1.0"/>
<circle cx="516.5" cy="68.5" r="3.0" fill="rgba(0,0,0,0.5)" stroke="rgba(0,0,0,0.65)" stroke-width="1.0"/>
<circle cx="520.2" cy="71.7" r="3.0" fill="rgba(0,0,0,0.5)" stroke="rgba(0,0,0,0.65)" stroke-width="1.0"/>
<circle cx="509.0" cy="76.3" r="3.0" fill="rgba(0,0,0,0.5)" stroke="rgba(0,0,0,0.65)" stroke-width="1.0"/>
<circle cx="519.2" cy="84.7" r="3.0" fill="rgba(0,0,0,0.5)" stroke="rgba(0,0,0,0.65)" stroke-width="1.0"/>
<circle cx="510.3" cy="89.9" r="3.0" fill="rgba(0,0,0,0.5)" stroke="rgba(0,0,0,0.65)" stroke-width="1.0"/>
<circle cx="518.0" cy="94.2" r="3.0" fill="rgba(0,0,0,0.5)" stroke="rgba(0,0,0,0.65)" stroke-width="1.0"/>
<circle cx="510.3" cy="98.5" r="3.0" fill="rgba(0,0,0,0.5)" stroke="rgba(0,0,0,0.65)" stroke-width="1.0"/>
<circle cx="509.0" cy="105.9" r="3.0" fill="rgba(0,0,0,0.5)" stroke="rgba(0,0,0,0.65)" stroke-width="1.0"/>
<circle cx="520.2" cy="105.3" r="3.0" fill="rgba(0,0,0,0.5)" stroke="rgba(0,0,0,0.65)" stroke-width="1.0"/>
<circle cx="515.2" cy="105.9" r="3.0" fill="rgba(0,0,0,0.5)" stroke="rgba(0,0,0,0.65)" stroke-width="1.0"/>
<circle cx="519.5" cy="110.3" r="3.0" fill="rgba(0,0,0,0.5)" stroke="rgba(0,0,0,0.65)" stroke-width="1.0"/>
<circle cx="509.0" cy="109.7" r="3.0" fill="rgba(0,0,0,0.5)" stroke="rgba(0,0,0,0.65)" stroke-width="1.0"/>
<circle cx="511.5" cy="122.0" r="3.0" fill="rgba(0,0,0,0.5)" stroke="rgba(0,0,0,0.65)" stroke-width="1.0"/>
<circle cx="520.2" cy="123.9" r="3.0" fill="rgba(0,0,0,0.5)" stroke="rgba(0,0,0,0.65)" stroke-width="1.0"/>
<circle cx="509.6" cy="127.0" r="3.0" fill="rgba(0,0,0,0.5)" stroke="rgba(0,0,0,0.65)" stroke-width="1.0"/>
<circle cx="515.2" cy="129.5" r="3.0" fill="rgba(0,0,0,0.5)" stroke="rgba(0,0,0,0.65)" stroke-width="1.0"/>
<circle cx="518.3" cy="130.7" r="3.0" fill="rgba(0,0,0,0.5)" stroke="rgba(0,0,0,0.65)" stroke-width="1.0"/>
<circle cx="511.5" cy="129.5" r="3.0" fill="rgba(0,0,0,0.5)" stroke="rgba(0,0,0,0.65)" stroke-width="1.0"/>
<circle cx="509.0" cy="129.4" r="3.0" fill="rgba(0,0,0,0.5)" stroke="rgba(0,0,0,0.65)" stroke-width="1.0"/>
<circle cx="515.9" cy="132.1" r="3.0" fill="rgba(0,0,0,0.5)" stroke="rgba(0,0,0,0.65)" stroke-width="1.0"/>
<circle cx="519.3" cy="134.2" r="3.0" fill="rgba(0,0,0,0.5)" stroke="rgba(0,0,0,0.65)" stroke-width="1.0"/>
<circle cx="515.9" cy="136.3" r="3.0" fill="rgba(0,0,0,0.5)" stroke="rgba(0,0,0,0.65)" stroke-width="1.0"/>
<circle cx="517.3" cy="141.1" r="3.0" fill="rgba(0,0,0,0.5)" stroke="rgba(0,0,0,0.65)" stroke-width="1.0"/>
<circle cx="511.7" cy="148.7" r="3.0" fill="rgba(0,0,0,0.5)" stroke="rgba(0,0,0,0.65)" stroke-width="1.0"/>
<circle cx="520.0" cy="147.1" r="3.0" fill="rgba(0,0,0,0.5)" stroke="rgba(0,0,0,0.65)" stroke-width="1.0"/>
<circle cx="516.6" cy="147.3" r="3.0" fill="rgba(0,0,0,0.5)" stroke="rgba(0,0,0,0.65)" stroke-width="1.0"/>
<circle cx="513.1" cy="153.6" r="3.0" fill="rgba(0,0,0,0.5)" stroke="rgba(0,0,0,0.65)" stroke-width="1.0"/>
<circle cx="519.3" cy="153.6" r="3.0" fill="rgba(0,0,0,0.5)" stroke="rgba(0,0,0,0.65)" stroke-width="1.0"/>
<circle cx="518.7" cy="157.7" r="3.0" fill="rgba(0,0,0,0.5)" stroke="rgba(0,0,0,0.65)" stroke-width="1.0"/>
<circle cx="514.5" cy="166.7" r="3.0" fill="rgba(0,0,0,0.5)" stroke="rgba(0,0,0,0.65)" stroke-width="1.0"/>
<circle cx="515.2" cy="175.7" r="3.0" fill="rgba(0,0,0,0.5)" stroke="rgba(0,0,0,0.65)" stroke-width="1.0"/>
<circle cx="519.3" cy="174.7" r="3.0" fill="rgba(0,0,0,0.5)" stroke="rgba(0,0,0,0.65)" stroke-width="1.0"/>
<circle cx="514.9" cy="118.7" r="3.0" fill="rgba(0,0,0,0.5)" stroke="rgba(0,0,0,0.65)" stroke-width="1.0"/>
<circle cx="511.7" cy="127.6" r="3.0" fill="rgba(0,0,0,0.5)" stroke="rgba(0,0,0,0.65)" stroke-width="1.0"/>
<circle cx="510.4" cy="121.1" r="3.0" fill="rgba(0,0,0,0.5)" stroke="rgba(0,0,0,0.65)" stroke-width="1.0"/>
<circle cx="519.3" cy="113.5" r="3.0" fill="rgba(0,0,0,0.5)" stroke="rgba(0,0,0,0.65)" stroke-width="1.0"/>
<circle cx="515.8" cy="123.1" r="3.0" fill="rgba(0,0,0,0.5)" stroke="rgba(0,0,0,0.65)" stroke-width="1.0"/>
<circle cx="510.7" cy="118.8" r="3.0" fill="rgba(0,0,0,0.5)" stroke="rgba(0,0,0,0.65)" stroke-width="1.0"/>
<circle cx="517.3" cy="120.1" r="3.0" fill="rgba(0,0,0,0.5)" stroke="rgba(0,0,0,0.65)" stroke-width="1.0"/>
<circle cx="517.6" cy="114.8" r="3.0" fill="rgba(0,0,0,0.5)" stroke="rgba(0,0,0,0.65)" stroke-width="1.0"/>
<circle cx="512.7" cy="114.0" r="3.0" fill="rgba(0,0,0,0.5)" stroke="rgba(0,0,0,0.65)" stroke-width="1.0"/>
<circle cx="515.4" cy="128.6" r="3.0" fill="rgba(0,0,0,0.5)" stroke="rgba(0,0,0,0.65)" stroke-width="1.0"/>
<path d="M484.30 89.70L490.90 96.30L484.30 102.90L477.70 96.30Z" fill="#8B0000"/>
<path d="M515.30 108.30L521.90 114.90L515.30 121.50L508.70 114.90Z" fill="#8B0000"/>
<rect x="466.00" y="23.50" width="67.50" height="167.00" fill="none" stroke="#3d3d3d" stroke-width="1.2"/>
<line x1="461.70" y1="29.00" x2="466.00" y2="29.00" stroke="#333333" stroke-width="1.3" />
<line x1="461.70" y1="78.00" x2="466.00" y2="78.00" stroke="#333333" stroke-width="1.3" />
<line x1="461.70" y1="127.00" x2="466.00" y2="127.00" stroke="#333333" stroke-width="1.3" />
<line x1="461.70" y1="176.00" x2="466.00" y2="176.00" stroke="#333333" stroke-width="1.3" />
<line x1="484.30" y1="190.50" x2="484.30" y2="194.80" stroke="#333333" stroke-width="1.3" />
<line x1="515.30" y1="190.50" x2="515.30" y2="194.80" stroke="#333333" stroke-width="1.3" />
<line x1="601.50" y1="30.52" x2="664.40" y2="30.52" stroke="#EBEBEB" stroke-width="0.75" />
<line x1="601.50" y1="60.27" x2="664.40" y2="60.27" stroke="#EBEBEB" stroke-width="0.75" />
<line x1="601.50" y1="90.03" x2="664.40" y2="90.03" stroke="#EBEBEB" stroke-width="0.75" />
<line x1="601.50" y1="119.78" x2="664.40" y2="119.78" stroke="#EBEBEB" stroke-width="0.75" />
<line x1="601.50" y1="149.53" x2="664.40" y2="149.53" stroke="#EBEBEB" stroke-width="0.75" />
<line x1="601.50" y1="179.28" x2="664.40" y2="179.28" stroke="#EBEBEB" stroke-width="0.75" />
<line x1="601.50" y1="45.40" x2="664.40" y2="45.40" stroke="#EBEBEB" stroke-width="1.3" />
<line x1="601.50" y1="75.15" x2="664.40" y2="75.15" stroke="#EBEBEB" stroke-width="1.3" />
<line x1="601.50" y1="104.90" x2="664.40" y2="104.90" stroke="#EBEBEB" stroke-width="1.3" />
<line x1="601.50" y1="134.65" x2="664.40" y2="134.65" stroke="#EBEBEB" stroke-width="1.3" />
<line x1="601.50" y1="164.40" x2="664.40" y2="164.40" stroke="#EBEBEB" stroke-width="1.3" />
<line x1="618.50" y1="23.50" x2="618.50" y2="190.50" stroke="#EBEBEB" stroke-width="1.3" />
<line x1="647.80" y1="23.50" x2="647.80" y2="190.50" stroke="#EBEBEB" stroke-width="1.3" />
<line x1="618.50" y1="37.30" x2="618.50" y2="90.80" stroke="#262626" stroke-width="1.5" />
<line x1="618.50" y1="149.40" x2="618.50" y2="183.50" stroke="#262626" stroke-width="1.5" />
<rect x="607.60" y="90.80" width="22.10" height="58.60" fill="#fff" stroke="#2b2b2b" stroke-width="1.5"/>
<line x1="607.60" y1="123.90" x2="629.70" y2="123.90" stroke="#222" stroke-width="2.6" />
<line x1="647.80" y1="96.00" x2="647.80" y2="129.40" stroke="#262626" stroke-width="1.5" />
<line x1="647.80" y1="153.50" x2="647.80" y2="180.50" stroke="#262626" stroke-width="1.5" />
<rect x="636.60" y="129.40" width="22.00" height="24.10" fill="#fff" stroke="#2b2b2b" stroke-width="1.5"/>
<line x1="636.60" y1="142.10" x2="658.60" y2="142.10" stroke="#222" stroke-width="2.6" />
<circle cx="624.0" cy="37.1" r="3.0" fill="rgba(0,0,0,0.5)" stroke="rgba(0,0,0,0.65)" stroke-width="1.0"/>
<circle cx="620.3" cy="44.1" r="3.0" fill="rgba(0,0,0,0.5)" stroke="rgba(0,0,0,0.65)" stroke-width="1.0"/>
<circle cx="615.3" cy="48.7" r="3.0" fill="rgba(0,0,0,0.5)" stroke="rgba(0,0,0,0.65)" stroke-width="1.0"/>
<circle cx="616.5" cy="48.0" r="3.0" fill="rgba(0,0,0,0.5)" stroke="rgba(0,0,0,0.65)" stroke-width="1.0"/>
<circle cx="622.7" cy="47.2" r="3.0" fill="rgba(0,0,0,0.5)" stroke="rgba(0,0,0,0.65)" stroke-width="1.0"/>
<circle cx="624.0" cy="58.6" r="3.0" fill="rgba(0,0,0,0.5)" stroke="rgba(0,0,0,0.65)" stroke-width="1.0"/>
<circle cx="621.5" cy="62.7" r="3.0" fill="rgba(0,0,0,0.5)" stroke="rgba(0,0,0,0.65)" stroke-width="1.0"/>
<circle cx="624.6" cy="66.7" r="3.0" fill="rgba(0,0,0,0.5)" stroke="rgba(0,0,0,0.65)" stroke-width="1.0"/>
<circle cx="617.5" cy="70.7" r="3.0" fill="rgba(0,0,0,0.5)" stroke="rgba(0,0,0,0.65)" stroke-width="1.0"/>
<circle cx="622.7" cy="75.0" r="3.0" fill="rgba(0,0,0,0.5)" stroke="rgba(0,0,0,0.65)" stroke-width="1.0"/>
<circle cx="614.1" cy="83.0" r="3.0" fill="rgba(0,0,0,0.5)" stroke="rgba(0,0,0,0.65)" stroke-width="1.0"/>
<circle cx="617.8" cy="87.4" r="3.0" fill="rgba(0,0,0,0.5)" stroke="rgba(0,0,0,0.65)" stroke-width="1.0"/>
<circle cx="616.6" cy="89.6" r="3.0" fill="rgba(0,0,0,0.5)" stroke="rgba(0,0,0,0.65)" stroke-width="1.0"/>
<circle cx="622.1" cy="90.5" r="3.0" fill="rgba(0,0,0,0.5)" stroke="rgba(0,0,0,0.65)" stroke-width="1.0"/>
<circle cx="613.5" cy="97.3" r="3.0" fill="rgba(0,0,0,0.5)" stroke="rgba(0,0,0,0.65)" stroke-width="1.0"/>
<circle cx="618.4" cy="94.8" r="3.0" fill="rgba(0,0,0,0.5)" stroke="rgba(0,0,0,0.65)" stroke-width="1.0"/>
<circle cx="624.0" cy="95.4" r="3.0" fill="rgba(0,0,0,0.5)" stroke="rgba(0,0,0,0.65)" stroke-width="1.0"/>
<circle cx="622.1" cy="101.6" r="3.0" fill="rgba(0,0,0,0.5)" stroke="rgba(0,0,0,0.65)" stroke-width="1.0"/>
<circle cx="620.9" cy="108.4" r="3.0" fill="rgba(0,0,0,0.5)" stroke="rgba(0,0,0,0.65)" stroke-width="1.0"/>
<circle cx="624.0" cy="107.4" r="3.0" fill="rgba(0,0,0,0.5)" stroke="rgba(0,0,0,0.65)" stroke-width="1.0"/>
<circle cx="622.7" cy="116.4" r="3.0" fill="rgba(0,0,0,0.5)" stroke="rgba(0,0,0,0.65)" stroke-width="1.0"/>
<circle cx="614.1" cy="129.4" r="3.0" fill="rgba(0,0,0,0.5)" stroke="rgba(0,0,0,0.65)" stroke-width="1.0"/>
<circle cx="622.7" cy="129.4" r="3.0" fill="rgba(0,0,0,0.5)" stroke="rgba(0,0,0,0.65)" stroke-width="1.0"/>
<circle cx="616.6" cy="133.1" r="3.0" fill="rgba(0,0,0,0.5)" stroke="rgba(0,0,0,0.65)" stroke-width="1.0"/>
<circle cx="613.2" cy="130.1" r="3.0" fill="rgba(0,0,0,0.5)" stroke="rgba(0,0,0,0.65)" stroke-width="1.0"/>
<circle cx="622.9" cy="130.8" r="3.0" fill="rgba(0,0,0,0.5)" stroke="rgba(0,0,0,0.65)" stroke-width="1.0"/>
<circle cx="616.0" cy="133.5" r="3.0" fill="rgba(0,0,0,0.5)" stroke="rgba(0,0,0,0.65)" stroke-width="1.0"/>
<circle cx="623.5" cy="135.6" r="3.0" fill="rgba(0,0,0,0.5)" stroke="rgba(0,0,0,0.65)" stroke-width="1.0"/>
<circle cx="612.5" cy="138.4" r="3.0" fill="rgba(0,0,0,0.5)" stroke="rgba(0,0,0,0.65)" stroke-width="1.0"/>
<circle cx="614.6" cy="141.8" r="3.0" fill="rgba(0,0,0,0.5)" stroke="rgba(0,0,0,0.65)" stroke-width="1.0"/>
<circle cx="622.2" cy="141.8" r="3.0" fill="rgba(0,0,0,0.5)" stroke="rgba(0,0,0,0.65)" stroke-width="1.0"/>
<circle cx="618.7" cy="141.1" r="3.0" fill="rgba(0,0,0,0.5)" stroke="rgba(0,0,0,0.65)" stroke-width="1.0"/>
<circle cx="613.9" cy="149.4" r="3.0" fill="rgba(0,0,0,0.5)" stroke="rgba(0,0,0,0.65)" stroke-width="1.0"/>
<circle cx="618.7" cy="148.7" r="3.0" fill="rgba(0,0,0,0.5)" stroke="rgba(0,0,0,0.65)" stroke-width="1.0"/>
<circle cx="623.5" cy="152.9" r="3.0" fill="rgba(0,0,0,0.5)" stroke="rgba(0,0,0,0.65)" stroke-width="1.0"/>
<circle cx="616.0" cy="159.1" r="3.0" fill="rgba(0,0,0,0.5)" stroke="rgba(0,0,0,0.65)" stroke-width="1.0"/>
<circle cx="624.2" cy="161.8" r="3.0" fill="rgba(0,0,0,0.5)" stroke="rgba(0,0,0,0.65)" stroke-width="1.0"/>
<circle cx="613.9" cy="163.2" r="3.0" fill="rgba(0,0,0,0.5)" stroke="rgba(0,0,0,0.65)" stroke-width="1.0"/>
<circle cx="618.7" cy="164.2" r="3.0" fill="rgba(0,0,0,0.5)" stroke="rgba(0,0,0,0.65)" stroke-width="1.0"/>
<circle cx="622.2" cy="167.3" r="3.0" fill="rgba(0,0,0,0.5)" stroke="rgba(0,0,0,0.65)" stroke-width="1.0"/>
<circle cx="618.7" cy="172.2" r="3.0" fill="rgba(0,0,0,0.5)" stroke="rgba(0,0,0,0.65)" stroke-width="1.0"/>
<circle cx="613.9" cy="179.8" r="3.0" fill="rgba(0,0,0,0.5)" stroke="rgba(0,0,0,0.65)" stroke-width="1.0"/>
<circle cx="618.7" cy="179.4" r="3.0" fill="rgba(0,0,0,0.5)" stroke="rgba(0,0,0,0.65)" stroke-width="1.0"/>
<circle cx="617.3" cy="183.5" r="3.0" fill="rgba(0,0,0,0.5)" stroke="rgba(0,0,0,0.65)" stroke-width="1.0"/>
<circle cx="619.2" cy="138.3" r="3.0" fill="rgba(0,0,0,0.5)" stroke="rgba(0,0,0,0.65)" stroke-width="1.0"/>
<circle cx="619.3" cy="131.4" r="3.0" fill="rgba(0,0,0,0.5)" stroke="rgba(0,0,0,0.65)" stroke-width="1.0"/>
<circle cx="621.6" cy="150.5" r="3.0" fill="rgba(0,0,0,0.5)" stroke="rgba(0,0,0,0.65)" stroke-width="1.0"/>
<circle cx="620.0" cy="130.0" r="3.0" fill="rgba(0,0,0,0.5)" stroke="rgba(0,0,0,0.65)" stroke-width="1.0"/>
<circle cx="618.7" cy="135.2" r="3.0" fill="rgba(0,0,0,0.5)" stroke="rgba(0,0,0,0.65)" stroke-width="1.0"/>
<circle cx="616.0" cy="154.5" r="3.0" fill="rgba(0,0,0,0.5)" stroke="rgba(0,0,0,0.65)" stroke-width="1.0"/>
<circle cx="623.5" cy="126.4" r="3.0" fill="rgba(0,0,0,0.5)" stroke="rgba(0,0,0,0.65)" stroke-width="1.0"/>
<circle cx="622.1" cy="143.7" r="3.0" fill="rgba(0,0,0,0.5)" stroke="rgba(0,0,0,0.65)" stroke-width="1.0"/>
<circle cx="617.3" cy="133.8" r="3.0" fill="rgba(0,0,0,0.5)" stroke="rgba(0,0,0,0.65)" stroke-width="1.0"/>
<circle cx="620.2" cy="139.2" r="3.0" fill="rgba(0,0,0,0.5)" stroke="rgba(0,0,0,0.65)" stroke-width="1.0"/>
<circle cx="620.4" cy="145.5" r="3.0" fill="rgba(0,0,0,0.5)" stroke="rgba(0,0,0,0.65)" stroke-width="1.0"/>
<circle cx="614.8" cy="148.8" r="3.0" fill="rgba(0,0,0,0.5)" stroke="rgba(0,0,0,0.65)" stroke-width="1.0"/>
<circle cx="623.5" cy="87.1" r="3.0" fill="rgba(0,0,0,0.5)" stroke="rgba(0,0,0,0.65)" stroke-width="1.0"/>
<circle cx="613.3" cy="118.0" r="3.0" fill="rgba(0,0,0,0.5)" stroke="rgba(0,0,0,0.65)" stroke-width="1.0"/>
<circle cx="615.0" cy="86.3" r="3.0" fill="rgba(0,0,0,0.5)" stroke="rgba(0,0,0,0.65)" stroke-width="1.0"/>
<circle cx="620.2" cy="94.4" r="3.0" fill="rgba(0,0,0,0.5)" stroke="rgba(0,0,0,0.65)" stroke-width="1.0"/>
<circle cx="622.8" cy="90.3" r="3.0" fill="rgba(0,0,0,0.5)" stroke="rgba(0,0,0,0.65)" stroke-width="1.0"/>
<circle cx="623.6" cy="93.5" r="3.0" fill="rgba(0,0,0,0.5)" stroke="rgba(0,0,0,0.65)" stroke-width="1.0"/>
<circle cx="650.2" cy="30.9" r="3.0" fill="rgba(0,0,0,0.5)" stroke="rgba(0,0,0,0.65)" stroke-width="1.0"/>
<circle cx="646.9" cy="66.0" r="3.0" fill="rgba(0,0,0,0.5)" stroke="rgba(0,0,0,0.65)" stroke-width="1.0"/>
<circle cx="645.6" cy="86.1" r="3.0" fill="rgba(0,0,0,0.5)" stroke="rgba(0,0,0,0.65)" stroke-width="1.0"/>
<circle cx="642.5" cy="88.6" r="3.0" fill="rgba(0,0,0,0.5)" stroke="rgba(0,0,0,0.65)" stroke-width="1.0"/>
<circle cx="644.4" cy="91.1" r="3.0" fill="rgba(0,0,0,0.5)" stroke="rgba(0,0,0,0.65)" stroke-width="1.0"/>
<circle cx="642.5" cy="93.8" r="3.0" fill="rgba(0,0,0,0.5)" stroke="rgba(0,0,0,0.65)" stroke-width="1.0"/>
<circle cx="647.5" cy="95.4" r="3.0" fill="rgba(0,0,0,0.5)" stroke="rgba(0,0,0,0.65)" stroke-width="1.0"/>
<circle cx="649.9" cy="102.0" r="3.0" fill="rgba(0,0,0,0.5)" stroke="rgba(0,0,0,0.65)" stroke-width="1.0"/>
<circle cx="648.1" cy="112.1" r="3.0" fill="rgba(0,0,0,0.5)" stroke="rgba(0,0,0,0.65)" stroke-width="1.0"/>
<circle cx="649.9" cy="118.3" r="3.0" fill="rgba(0,0,0,0.5)" stroke="rgba(0,0,0,0.65)" stroke-width="1.0"/>
<circle cx="641.5" cy="118.9" r="3.0" fill="rgba(0,0,0,0.5)" stroke="rgba(0,0,0,0.65)" stroke-width="1.0"/>
<circle cx="644.4" cy="122.6" r="3.0" fill="rgba(0,0,0,0.5)" stroke="rgba(0,0,0,0.65)" stroke-width="1.0"/>
<circle cx="641.9" cy="127.6" r="3.0" fill="rgba(0,0,0,0.5)" stroke="rgba(0,0,0,0.65)" stroke-width="1.0"/>
<circle cx="649.9" cy="128.4" r="3.0" fill="rgba(0,0,0,0.5)" stroke="rgba(0,0,0,0.65)" stroke-width="1.0"/>
<circle cx="647.5" cy="133.1" r="3.0" fill="rgba(0,0,0,0.5)" stroke="rgba(0,0,0,0.65)" stroke-width="1.0"/>
<circle cx="642.2" cy="130.1" r="3.0" fill="rgba(0,0,0,0.5)" stroke="rgba(0,0,0,0.65)" stroke-width="1.0"/>
<circle cx="642.9" cy="134.2" r="3.0" fill="rgba(0,0,0,0.5)" stroke="rgba(0,0,0,0.65)" stroke-width="1.0"/>
<circle cx="642.2" cy="143.2" r="3.0" fill="rgba(0,0,0,0.5)" stroke="rgba(0,0,0,0.65)" stroke-width="1.0"/>
<circle cx="639.4" cy="148.7" r="3.0" fill="rgba(0,0,0,0.5)" stroke="rgba(0,0,0,0.65)" stroke-width="1.0"/>
<circle cx="643.6" cy="151.5" r="3.0" fill="rgba(0,0,0,0.5)" stroke="rgba(0,0,0,0.65)" stroke-width="1.0"/>
<circle cx="649.8" cy="150.1" r="3.0" fill="rgba(0,0,0,0.5)" stroke="rgba(0,0,0,0.65)" stroke-width="1.0"/>
<circle cx="653.2" cy="154.9" r="3.0" fill="rgba(0,0,0,0.5)" stroke="rgba(0,0,0,0.65)" stroke-width="1.0"/>
<circle cx="647.0" cy="153.5" r="3.0" fill="rgba(0,0,0,0.5)" stroke="rgba(0,0,0,0.65)" stroke-width="1.0"/>
<circle cx="643.6" cy="161.1" r="3.0" fill="rgba(0,0,0,0.5)" stroke="rgba(0,0,0,0.65)" stroke-width="1.0"/>
<circle cx="642.2" cy="164.6" r="3.0" fill="rgba(0,0,0,0.5)" stroke="rgba(0,0,0,0.65)" stroke-width="1.0"/>
<circle cx="651.8" cy="165.0" r="3.0" fill="rgba(0,0,0,0.5)" stroke="rgba(0,0,0,0.65)" stroke-width="1.0"/>
<circle cx="653.2" cy="169.1" r="3.0" fill="rgba(0,0,0,0.5)" stroke="rgba(0,0,0,0.65)" stroke-width="1.0"/>
<circle cx="646.3" cy="169.4" r="3.0" fill="rgba(0,0,0,0.5)" stroke="rgba(0,0,0,0.65)" stroke-width="1.0"/>
<circle cx="647.0" cy="172.9" r="3.0" fill="rgba(0,0,0,0.5)" stroke="rgba(0,0,0,0.65)" stroke-width="1.0"/>
<circle cx="642.2" cy="175.6" r="3.0" fill="rgba(0,0,0,0.5)" stroke="rgba(0,0,0,0.65)" stroke-width="1.0"/>
<circle cx="649.8" cy="180.2" r="3.0" fill="rgba(0,0,0,0.5)" stroke="rgba(0,0,0,0.65)" stroke-width="1.0"/>
<circle cx="647.0" cy="180.5" r="3.0" fill="rgba(0,0,0,0.5)" stroke="rgba(0,0,0,0.65)" stroke-width="1.0"/>
<circle cx="647.3" cy="146.8" r="3.0" fill="rgba(0,0,0,0.5)" stroke="rgba(0,0,0,0.65)" stroke-width="1.0"/>
<circle cx="652.5" cy="144.0" r="3.0" fill="rgba(0,0,0,0.5)" stroke="rgba(0,0,0,0.65)" stroke-width="1.0"/>
<circle cx="647.9" cy="147.6" r="3.0" fill="rgba(0,0,0,0.5)" stroke="rgba(0,0,0,0.65)" stroke-width="1.0"/>
<circle cx="644.3" cy="145.4" r="3.0" fill="rgba(0,0,0,0.5)" stroke="rgba(0,0,0,0.65)" stroke-width="1.0"/>
<circle cx="649.2" cy="153.8" r="3.0" fill="rgba(0,0,0,0.5)" stroke="rgba(0,0,0,0.65)" stroke-width="1.0"/>
<circle cx="643.3" cy="139.1" r="3.0" fill="rgba(0,0,0,0.5)" stroke="rgba(0,0,0,0.65)" stroke-width="1.0"/>
<circle cx="643.3" cy="154.3" r="3.0" fill="rgba(0,0,0,0.5)" stroke="rgba(0,0,0,0.65)" stroke-width="1.0"/>
<circle cx="649.9" cy="131.3" r="3.0" fill="rgba(0,0,0,0.5)" stroke="rgba(0,0,0,0.65)" stroke-width="1.0"/>
<circle cx="653.1" cy="158.9" r="3.0" fill="rgba(0,0,0,0.5)" stroke="rgba(0,0,0,0.65)" stroke-width="1.0"/>
<circle cx="649.5" cy="148.5" r="3.0" fill="rgba(0,0,0,0.5)" stroke="rgba(0,0,0,0.65)" stroke-width="1.0"/>
<circle cx="644.0" cy="130.5" r="3.0" fill="rgba(0,0,0,0.5)" stroke="rgba(0,0,0,0.65)" stroke-width="1.0"/>
<circle cx="648.1" cy="131.8" r="3.0" fill="rgba(0,0,0,0.5)" stroke="rgba(0,0,0,0.65)" stroke-width="1.0"/>
<circle cx="644.4" cy="137.3" r="3.0" fill="rgba(0,0,0,0.5)" stroke="rgba(0,0,0,0.65)" stroke-width="1.0"/>
<circle cx="642.6" cy="143.9" r="3.0" fill="rgba(0,0,0,0.5)" stroke="rgba(0,0,0,0.65)" stroke-width="1.0"/>
<circle cx="647.1" cy="155.3" r="3.0" fill="rgba(0,0,0,0.5)" stroke="rgba(0,0,0,0.65)" stroke-width="1.0"/>
<circle cx="648.0" cy="149.2" r="3.0" fill="rgba(0,0,0,0.5)" stroke="rgba(0,0,0,0.65)" stroke-width="1.0"/>
<circle cx="649.4" cy="138.7" r="3.0" fill="rgba(0,0,0,0.5)" stroke="rgba(0,0,0,0.65)" stroke-width="1.0"/>
<circle cx="645.2" cy="144.0" r="3.0" fill="rgba(0,0,0,0.5)" stroke="rgba(0,0,0,0.65)" stroke-width="1.0"/>
<circle cx="650.5" cy="156.3" r="3.0" fill="rgba(0,0,0,0.5)" stroke="rgba(0,0,0,0.65)" stroke-width="1.0"/>
<circle cx="652.3" cy="140.3" r="3.0" fill="rgba(0,0,0,0.5)" stroke="rgba(0,0,0,0.65)" stroke-width="1.0"/>
<circle cx="646.9" cy="138.8" r="3.0" fill="rgba(0,0,0,0.5)" stroke="rgba(0,0,0,0.65)" stroke-width="1.0"/>
<circle cx="644.5" cy="151.6" r="3.0" fill="rgba(0,0,0,0.5)" stroke="rgba(0,0,0,0.65)" stroke-width="1.0"/>
<circle cx="642.3" cy="143.4" r="3.0" fill="rgba(0,0,0,0.5)" stroke="rgba(0,0,0,0.65)" stroke-width="1.0"/>
<circle cx="649.5" cy="152.7" r="3.0" fill="rgba(0,0,0,0.5)" stroke="rgba(0,0,0,0.65)" stroke-width="1.0"/>
<circle cx="644.6" cy="153.9" r="3.0" fill="rgba(0,0,0,0.5)" stroke="rgba(0,0,0,0.65)" stroke-width="1.0"/>
<circle cx="651.4" cy="138.2" r="3.0" fill="rgba(0,0,0,0.5)" stroke="rgba(0,0,0,0.65)" stroke-width="1.0"/>
<path d="M618.50 111.90L625.10 118.50L618.50 125.10L611.90 118.50Z" fill="#8B0000"/>
<path d="M647.80 131.80L654.40 138.40L647.80 145.00L641.20 138.40Z" fill="#8B0000"/>
<rect x="601.50" y="23.50" width="62.90" height="167.00" fill="none" stroke="#3d3d3d" stroke-width="1.2"/>
<line x1="597.20" y1="45.40" x2="601.50" y2="45.40" stroke="#333333" stroke-width="1.3" />
<line x1="597.20" y1="75.15" x2="601.50" y2="75.15" stroke="#333333" stroke-width="1.3" />
<line x1="597.20" y1="104.90" x2="601.50" y2="104.90" stroke="#333333" stroke-width="1.3" />
<line x1="597.20" y1="134.65" x2="601.50" y2="134.65" stroke="#333333" stroke-width="1.3" />
<line x1="597.20" y1="164.40" x2="601.50" y2="164.40" stroke="#333333" stroke-width="1.3" />
<line x1="618.50" y1="190.50" x2="618.50" y2="194.80" stroke="#333333" stroke-width="1.3" />
<line x1="647.80" y1="190.50" x2="647.80" y2="194.80" stroke="#333333" stroke-width="1.3" />
<line x1="120.30" y1="277.50" x2="120.30" y2="436.20" stroke="#EBEBEB" stroke-width="0.75" />
<line x1="250.70" y1="277.50" x2="250.70" y2="436.20" stroke="#EBEBEB" stroke-width="0.75" />
<line x1="381.10" y1="277.50" x2="381.10" y2="436.20" stroke="#EBEBEB" stroke-width="0.75" />
<line x1="511.50" y1="277.50" x2="511.50" y2="436.20" stroke="#EBEBEB" stroke-width="0.75" />
<line x1="61.50" y1="297.05" x2="553.80" y2="297.05" stroke="#EBEBEB" stroke-width="0.75" />
<line x1="61.50" y1="338.15" x2="553.80" y2="338.15" stroke="#EBEBEB" stroke-width="0.75" />
<line x1="61.50" y1="379.25" x2="553.80" y2="379.25" stroke="#EBEBEB" stroke-width="0.75" />
<line x1="61.50" y1="420.35" x2="553.80" y2="420.35" stroke="#EBEBEB" stroke-width="0.75" />
<line x1="185.50" y1="277.50" x2="185.50" y2="436.20" stroke="#EBEBEB" stroke-width="1.3" />
<line x1="315.90" y1="277.50" x2="315.90" y2="436.20" stroke="#EBEBEB" stroke-width="1.3" />
<line x1="446.30" y1="277.50" x2="446.30" y2="436.20" stroke="#EBEBEB" stroke-width="1.3" />
<line x1="61.50" y1="317.60" x2="553.80" y2="317.60" stroke="#EBEBEB" stroke-width="1.3" />
<line x1="61.50" y1="358.70" x2="553.80" y2="358.70" stroke="#EBEBEB" stroke-width="1.3" />
<line x1="61.50" y1="399.80" x2="553.80" y2="399.80" stroke="#EBEBEB" stroke-width="1.3" />
<circle cx="178.6" cy="295.3" r="6.0" fill="#F8766D"/>
<circle cx="149.7" cy="341.6" r="6.0" fill="#F8766D"/>
<circle cx="166.9" cy="343.4" r="6.0" fill="#F8766D"/>
<circle cx="155.2" cy="353.7" r="6.0" fill="#F8766D"/>
<circle cx="181.8" cy="351.8" r="6.0" fill="#F8766D"/>
<circle cx="148.9" cy="374.1" r="6.0" fill="#F8766D"/>
<circle cx="167.9" cy="376.9" r="6.0" fill="#F8766D"/>
<circle cx="175.3" cy="393.6" r="6.0" fill="#F8766D"/>
<circle cx="183.7" cy="388.0" r="6.0" fill="#F8766D"/>
<circle cx="192.0" cy="378.7" r="6.0" fill="#F8766D"/>
<circle cx="186.9" cy="389.2" r="6.0" fill="#F8766D"/>
<circle cx="195.7" cy="388.0" r="6.0" fill="#F8766D"/>
<circle cx="202.7" cy="404.0" r="6.0" fill="#F8766D"/>
<circle cx="193.0" cy="408.5" r="6.0" fill="#F8766D"/>
<circle cx="268.5" cy="290.8" r="6.0" fill="#F8766D"/>
<circle cx="241.0" cy="306.9" r="6.0" fill="#F8766D"/>
<circle cx="276.1" cy="304.4" r="6.0" fill="#F8766D"/>
<circle cx="279.9" cy="311.1" r="6.0" fill="#F8766D"/>
<circle cx="203.4" cy="316.8" r="6.0" fill="#F8766D"/>
<circle cx="220.5" cy="317.7" r="6.0" fill="#F8766D"/>
<circle cx="242.9" cy="329.1" r="6.0" fill="#F8766D"/>
<circle cx="277.0" cy="330.4" r="6.0" fill="#F8766D"/>
<circle cx="282.7" cy="332.0" r="6.0" fill="#F8766D"/>
<circle cx="281.8" cy="346.2" r="6.0" fill="#F8766D"/>
<circle cx="249.5" cy="358.8" r="6.0" fill="#F8766D"/>
<circle cx="254.3" cy="360.7" r="6.0" fill="#F8766D"/>
<circle cx="287.3" cy="357.5" r="6.0" fill="#F8766D"/>
<circle cx="204.9" cy="371.1" r="6.0" fill="#F8766D"/>
<circle cx="234.3" cy="372.5" r="6.0" fill="#F8766D"/>
<circle cx="267.0" cy="376.4" r="6.0" fill="#F8766D"/>
<circle cx="294.1" cy="374.0" r="6.0" fill="#F8766D"/>
<circle cx="307.4" cy="374.0" r="6.0" fill="#F8766D"/>
<circle cx="277.0" cy="381.6" r="6.0" fill="#F8766D"/>
<circle cx="284.6" cy="386.9" r="6.0" fill="#F8766D"/>
<circle cx="293.2" cy="383.5" r="6.0" fill="#F8766D"/>
<circle cx="249.9" cy="383.8" r="6.0" fill="#F8766D"/>
<circle cx="239.1" cy="400.2" r="6.0" fill="#F8766D"/>
<circle cx="260.0" cy="393.9" r="6.0" fill="#F8766D"/>
<circle cx="265.7" cy="395.8" r="6.0" fill="#F8766D"/>
<circle cx="303.6" cy="399.0" r="6.0" fill="#F8766D"/>
<circle cx="321.4" cy="325.9" r="6.0" fill="#F8766D"/>
<circle cx="424.8" cy="324.7" r="6.0" fill="#F8766D"/>
<circle cx="401.1" cy="333.8" r="6.0" fill="#F8766D"/>
<circle cx="437.2" cy="343.0" r="6.0" fill="#F8766D"/>
<circle cx="357.1" cy="349.4" r="6.0" fill="#F8766D"/>
<circle cx="366.9" cy="345.2" r="6.0" fill="#F8766D"/>
<circle cx="374.1" cy="355.7" r="6.0" fill="#F8766D"/>
<circle cx="329.0" cy="356.6" r="6.0" fill="#F8766D"/>
<circle cx="409.0" cy="356.8" r="6.0" fill="#F8766D"/>
<circle cx="321.4" cy="362.6" r="6.0" fill="#F8766D"/>
<circle cx="337.5" cy="363.5" r="6.0" fill="#F8766D"/>
<circle cx="373.6" cy="357.8" r="6.0" fill="#F8766D"/>
<circle cx="375.5" cy="366.4" r="6.0" fill="#F8766D"/>
<circle cx="399.2" cy="375.9" r="6.0" fill="#F8766D"/>
<circle cx="415.9" cy="381.0" r="6.0" fill="#F8766D"/>
<circle cx="399.2" cy="388.2" r="6.0" fill="#F8766D"/>
<circle cx="349.9" cy="381.6" r="6.0" fill="#F8766D"/>
<circle cx="360.7" cy="386.9" r="6.0" fill="#F8766D"/>
<circle cx="336.6" cy="388.2" r="6.0" fill="#F8766D"/>
<circle cx="333.7" cy="390.1" r="6.0" fill="#F8766D"/>
<circle cx="339.4" cy="393.5" r="6.0" fill="#F8766D"/>
<circle cx="329.9" cy="397.7" r="6.0" fill="#F8766D"/>
<circle cx="451.3" cy="352.2" r="6.0" fill="#F8766D"/>
<circle cx="464.2" cy="370.6" r="6.0" fill="#F8766D"/>
<circle cx="453.7" cy="388.8" r="6.0" fill="#F8766D"/>
<circle cx="472.3" cy="383.5" r="6.0" fill="#F8766D"/>
<circle cx="518.3" cy="375.5" r="6.0" fill="#F8766D"/>
<circle cx="189.8" cy="344.9" r="6.0" fill="#00BFC4"/>
<circle cx="184.6" cy="378.7" r="6.0" fill="#00BFC4"/>
<circle cx="155.2" cy="389.5" r="6.0" fill="#00BFC4"/>
<circle cx="242.9" cy="284.5" r="6.0" fill="#00BFC4"/>
<circle cx="240.4" cy="313.5" r="6.0" fill="#00BFC4"/>
<circle cx="212.9" cy="313.0" r="6.0" fill="#00BFC4"/>
<circle cx="205.5" cy="326.6" r="6.0" fill="#00BFC4"/>
<circle cx="238.1" cy="336.7" r="6.0" fill="#00BFC4"/>
<circle cx="256.2" cy="332.0" r="6.0" fill="#00BFC4"/>
<circle cx="271.9" cy="331.0" r="6.0" fill="#00BFC4"/>
<circle cx="308.4" cy="317.1" r="6.0" fill="#00BFC4"/>
<circle cx="297.9" cy="325.3" r="6.0" fill="#00BFC4"/>
<circle cx="305.0" cy="329.1" r="6.0" fill="#00BFC4"/>
<circle cx="275.7" cy="347.1" r="6.0" fill="#00BFC4"/>
<circle cx="280.8" cy="351.9" r="6.0" fill="#00BFC4"/>
<circle cx="253.3" cy="355.0" r="6.0" fill="#00BFC4"/>
<circle cx="302.0" cy="357.5" r="6.0" fill="#00BFC4"/>
<circle cx="314.0" cy="356.5" r="6.0" fill="#00BFC4"/>
<circle cx="317.0" cy="301.0" r="6.0" fill="#00BFC4"/>
<circle cx="261.5" cy="367.3" r="6.0" fill="#00BFC4"/>
<circle cx="273.8" cy="366.0" r="6.0" fill="#00BFC4"/>
<circle cx="310.3" cy="368.7" r="6.0" fill="#00BFC4"/>
<circle cx="301.7" cy="380.6" r="6.0" fill="#00BFC4"/>
<circle cx="309.9" cy="383.5" r="6.0" fill="#00BFC4"/>
<circle cx="204.5" cy="392.6" r="6.0" fill="#00BFC4"/>
<circle cx="217.6" cy="400.2" r="6.0" fill="#00BFC4"/>
<circle cx="235.3" cy="393.9" r="6.0" fill="#00BFC4"/>
<circle cx="241.9" cy="393.9" r="6.0" fill="#00BFC4"/>
<circle cx="326.7" cy="311.1" r="6.0" fill="#00BFC4"/>
<circle cx="338.1" cy="326.6" r="6.0" fill="#00BFC4"/>
<circle cx="344.2" cy="331.9" r="6.0" fill="#00BFC4"/>
<circle cx="341.9" cy="339.5" r="6.0" fill="#00BFC4"/>
<circle cx="350.2" cy="337.3" r="6.0" fill="#00BFC4"/>
<circle cx="372.6" cy="331.6" r="6.0" fill="#00BFC4"/>
<circle cx="385.9" cy="317.9" r="6.0" fill="#00BFC4"/>
<circle cx="396.4" cy="339.5" r="6.0" fill="#00BFC4"/>
<circle cx="396.4" cy="347.5" r="6.0" fill="#00BFC4"/>
<circle cx="415.0" cy="338.6" r="6.0" fill="#00BFC4"/>
<circle cx="426.7" cy="334.2" r="6.0" fill="#00BFC4"/>
<circle cx="429.6" cy="346.7" r="6.0" fill="#00BFC4"/>
<circle cx="420.1" cy="346.2" r="6.0" fill="#00BFC4"/>
<circle cx="409.6" cy="351.3" r="6.0" fill="#00BFC4"/>
<circle cx="369.8" cy="349.0" r="6.0" fill="#00BFC4"/>
<circle cx="317.0" cy="357.0" r="6.0" fill="#00BFC4"/>
<circle cx="326.0" cy="358.0" r="6.0" fill="#00BFC4"/>
<circle cx="342.0" cy="355.5" r="6.0" fill="#00BFC4"/>
<circle cx="349.0" cy="357.0" r="6.0" fill="#00BFC4"/>
<circle cx="388.0" cy="358.0" r="6.0" fill="#00BFC4"/>
<circle cx="380.0" cy="360.0" r="6.0" fill="#00BFC4"/>
<circle cx="345.5" cy="369.2" r="6.0" fill="#00BFC4"/>
<circle cx="317.0" cy="369.2" r="6.0" fill="#00BFC4"/>
<circle cx="370.4" cy="368.7" r="6.0" fill="#00BFC4"/>
<circle cx="417.2" cy="355.0" r="6.0" fill="#00BFC4"/>
<circle cx="410.6" cy="365.4" r="6.0" fill="#00BFC4"/>
<circle cx="404.9" cy="372.5" r="6.0" fill="#00BFC4"/>
<circle cx="433.7" cy="373.6" r="6.0" fill="#00BFC4"/>
<circle cx="399.6" cy="393.0" r="6.0" fill="#00BFC4"/>
<circle cx="326.7" cy="401.1" r="6.0" fill="#00BFC4"/>
<circle cx="459.4" cy="332.5" r="6.0" fill="#00BFC4"/>
<circle cx="452.4" cy="345.8" r="6.0" fill="#00BFC4"/>
<circle cx="445.2" cy="371.1" r="6.0" fill="#00BFC4"/>
<circle cx="464.2" cy="366.8" r="6.0" fill="#00BFC4"/>
<circle cx="500.6" cy="363.0" r="6.0" fill="#00BFC4"/>
<circle cx="519.2" cy="366.0" r="6.0" fill="#00BFC4"/>
<circle cx="478.0" cy="413.5" r="6.0" fill="#00BFC4"/>
<ellipse cx="291.2" cy="366.4" rx="208.9" ry="62.5" transform="rotate(0.24 291.2 366.4)" stroke="#F8766D" stroke-width="1.7" fill="none"/>
<ellipse cx="344.9" cy="352.6" rx="185.1" ry="55.3" transform="rotate(1.02 344.9 352.6)" stroke="#00BFC4" stroke-width="1.7" fill="none"/>
<rect x="61.50" y="277.50" width="492.30" height="158.70" fill="none" stroke="#3d3d3d" stroke-width="1.2"/>
<line x1="57.20" y1="317.60" x2="61.50" y2="317.60" stroke="#333333" stroke-width="1.3" />
<line x1="57.20" y1="358.70" x2="61.50" y2="358.70" stroke="#333333" stroke-width="1.3" />
<line x1="57.20" y1="399.80" x2="61.50" y2="399.80" stroke="#333333" stroke-width="1.3" />
<line x1="185.50" y1="436.20" x2="185.50" y2="440.50" stroke="#333333" stroke-width="1.3" />
<line x1="315.90" y1="436.20" x2="315.90" y2="440.50" stroke="#333333" stroke-width="1.3" />
<line x1="446.30" y1="436.20" x2="446.30" y2="440.50" stroke="#333333" stroke-width="1.3" />
<line x1="581.20" y1="355.90" x2="602.00" y2="355.90" stroke="#F8766D" stroke-width="1.5" />
<circle cx="591.4" cy="355.9" r="5.6" fill="#F8766D"/>
<line x1="581.20" y1="381.40" x2="602.00" y2="381.40" stroke="#00BFC4" stroke-width="1.5" />
<circle cx="591.4" cy="381.4" r="5.6" fill="#00BFC4"/>
<text id="a)" x="0.23" y="13.81" font-size="17.37" fill="#000"  textLength="15.96" lengthAdjust="spacing">a)</text>
<text id="tk0_600" x="43.87" y="52.04" font-size="13.20" fill="#4D4D4D"  textLength="23.94" lengthAdjust="spacing">600</text>
<text id="tk0_500" x="43.87" y="81.21" font-size="13.20" fill="#4D4D4D"  textLength="23.94" lengthAdjust="spacing">500</text>
<text id="tk0_400" x="44.77" y="110.38" font-size="13.20" fill="#4D4D4D"  textLength="23.04" lengthAdjust="spacing">400</text>
<text id="tk0_300" x="43.87" y="140.45" font-size="13.20" fill="#4D4D4D"  textLength="23.94" lengthAdjust="spacing">300</text>
<text id="tk0_200" x="43.87" y="169.62" font-size="13.20" fill="#4D4D4D"  textLength="23.94" lengthAdjust="spacing">200</text>
<text id="x0_C" x="89.73" y="208.20" font-size="12.80" fill="#4D4D4D" >C</text>
<text id="x0_P" x="118.57" y="208.20" font-size="12.80" fill="#4D4D4D" >P</text>
<text id="G0" x="83.53" y="227.70" font-size="15.84" fill="#000"  textLength="49.44" lengthAdjust="spacing">Group</text>
<text id="t0" x="61.18" y="17.19" font-size="15.20" fill="#000"  textLength="91.74" lengthAdjust="spacing">p=7.09E-04*</text>
<text id="y0" x="37.19" y="144.59" font-size="15.76" fill="#000"  textLength="76.25" lengthAdjust="spacing" transform="rotate(-90 37.19 144.59)">Observed</text>
<text id="tk1_60000" x="174.61" y="66.88" font-size="13.20" fill="#4D4D4D"  textLength="40.20" lengthAdjust="spacing">60000</text>
<text id="tk1_40000" x="174.61" y="110.37" font-size="13.20" fill="#4D4D4D"  textLength="40.20" lengthAdjust="spacing">40000</text>
<text id="tk1_20000" x="174.61" y="152.96" font-size="13.20" fill="#4D4D4D"  textLength="40.20" lengthAdjust="spacing">20000</text>
<text id="x1_C" x="232.07" y="208.20" font-size="12.80" fill="#4D4D4D" >C</text>
<text id="x1_P" x="254.36" y="208.20" font-size="12.80" fill="#4D4D4D" >P</text>
<text id="G1" x="223.10" y="227.70" font-size="15.84" fill="#000"  textLength="48.54" lengthAdjust="spacing">Group</text>
<text id="t1" x="201.92" y="17.19" font-size="15.20" fill="#000"  textLength="82.58" lengthAdjust="spacing">p=3.56E-01</text>
<text id="y1" x="169.52" y="133.24" font-size="15.75" fill="#000"  textLength="49.83" lengthAdjust="spacing" transform="rotate(-90 169.52 133.24)">Chao1</text>
<text id="tk2_100000" x="305.21" y="40.88" font-size="13.20" fill="#4D4D4D"  textLength="49.34" lengthAdjust="spacing">100000</text>
<text id="tk2_75000" x="314.11" y="80.15" font-size="13.20" fill="#4D4D4D"  textLength="40.44" lengthAdjust="spacing">75000</text>
<text id="tk2_50000" x="313.21" y="118.52" font-size="13.20" fill="#4D4D4D"  textLength="41.34" lengthAdjust="spacing">50000</text>
<text id="tk2_25000" x="314.11" y="157.80" font-size="13.20" fill="#4D4D4D"  textLength="40.44" lengthAdjust="spacing">25000</text>
<text id="x2_C" x="369.02" y="208.20" font-size="12.80" fill="#4D4D4D" >C</text>
<text id="x2_P" x="387.20" y="208.20" font-size="12.80" fill="#4D4D4D" >P</text>
<text id="G2" x="358.02" y="227.70" font-size="15.84" fill="#000"  textLength="48.54" lengthAdjust="spacing">Group</text>
<text id="t2" x="343.26" y="17.19" font-size="15.20" fill="#000"  textLength="83.32" lengthAdjust="spacing">p=5.79E-01</text>
<text id="y2" x="299.71" y="123.34" font-size="15.20" fill="#000"  textLength="32.35" lengthAdjust="spacing" transform="rotate(-90 299.71 123.34)">ACE</text>
<text id="tk3_6.5" x="436.87" y="33.54" font-size="13.20" fill="#4D4D4D"  textLength="19.86" lengthAdjust="spacing">6.5</text>
<text id="tk3_6.0" x="436.87" y="82.54" font-size="13.20" fill="#4D4D4D"  textLength="19.86" lengthAdjust="spacing">6.0</text>
<text id="tk3_5.5" x="436.87" y="131.54" font-size="13.20" fill="#4D4D4D"  textLength="19.86" lengthAdjust="spacing">5.5</text>
<text id="tk3_5.0" x="436.87" y="180.54" font-size="13.20" fill="#4D4D4D"  textLength="19.86" lengthAdjust="spacing">5.0</text>
<text id="x3_C" x="480.02" y="208.20" font-size="12.80" fill="#4D4D4D" >C</text>
<text id="x3_P" x="511.07" y="208.20" font-size="12.80" fill="#4D4D4D" >P</text>
<text id="G3" x="474.45" y="227.70" font-size="15.84" fill="#000"  textLength="49.44" lengthAdjust="spacing">Group</text>
<text id="t3" x="455.18" y="17.19" font-size="15.20" fill="#000"  textLength="91.98" lengthAdjust="spacing">p=8.04E-04*</text>
<text id="y3" x="430.94" y="142.82" font-size="15.69" fill="#000"  textLength="70.57" lengthAdjust="spacing" transform="rotate(-90 430.94 142.82)">Shannon</text>
<text id="tk4_600" x="568.37" y="50.12" font-size="13.20" fill="#4D4D4D"  textLength="24.36" lengthAdjust="spacing">600</text>
<text id="tk4_500" x="568.37" y="79.87" font-size="13.20" fill="#4D4D4D"  textLength="24.36" lengthAdjust="spacing">500</text>
<text id="tk4_400" x="569.27" y="109.62" font-size="13.20" fill="#4D4D4D"  textLength="23.46" lengthAdjust="spacing">400</text>
<text id="tk4_300" x="568.37" y="139.37" font-size="13.20" fill="#4D4D4D"  textLength="24.36" lengthAdjust="spacing">300</text>
<text id="tk4_200" x="568.37" y="169.12" font-size="13.20" fill="#4D4D4D"  textLength="24.36" lengthAdjust="spacing">200</text>
<text id="x4_C" x="614.31" y="208.20" font-size="12.80" fill="#4D4D4D" >C</text>
<text id="x4_P" x="643.57" y="208.20" font-size="12.80" fill="#4D4D4D" >P</text>
<text id="G4" x="608.19" y="227.70" font-size="15.84" fill="#000"  textLength="48.54" lengthAdjust="spacing">Group</text>
<text id="t4" x="592.26" y="17.19" font-size="15.20" fill="#000"  textLength="91.40" lengthAdjust="spacing">p=7.55E-04*</text>
<text id="y4" x="561.02" y="155.99" font-size="15.00" fill="#000"  textLength="96.15" lengthAdjust="spacing" transform="rotate(-90 561.02 155.99)">InvSimpson</text>
<text id="b)" x="11.23" y="275.65" font-size="16.56" fill="#000"  textLength="16.12" lengthAdjust="spacing">b)</text>
<text id="by_a" x="32.03" y="322.41" font-size="13.20" fill="#4D4D4D"  textLength="20.94" lengthAdjust="spacing">0.1</text>
<text id="by_b" x="32.03" y="363.33" font-size="13.20" fill="#4D4D4D"  textLength="20.94" lengthAdjust="spacing">0.0</text>
<text id="by_c" x="32.03" y="404.25" font-size="13.20" fill="#4D4D4D"  textLength="20.94" lengthAdjust="spacing">0.1</text>
<text id="bx_a" x="173.19" y="453.12" font-size="13.20" fill="#4D4D4D"  textLength="22.70" lengthAdjust="spacing">-0.1</text>
<text id="bx_b" x="306.52" y="453.12" font-size="13.20" fill="#4D4D4D"  textLength="19.54" lengthAdjust="spacing">0.0</text>
<text id="bx_c" x="436.20" y="453.12" font-size="13.20" fill="#4D4D4D"  textLength="20.44" lengthAdjust="spacing">0.1</text>
<text id="PC1" x="270.97" y="479.72" font-size="14.60" fill="#000"  textLength="69.07" lengthAdjust="spacing">PC1 [1%]</text>
<text id="PC2" x="23.90" y="408.05" font-size="14.60" fill="#000"  textLength="83.59" lengthAdjust="spacing" transform="rotate(-90 23.90 408.05)">PC2 [0.9%]</text>
<text id="LG" x="578.78" y="334.11" font-size="16.10" fill="#000"  textLength="49.44" lengthAdjust="spacing">Group</text>
<text id="LC" x="612.57" y="360.56" font-size="12.80" fill="#000" >C</text>
<text id="LP" x="612.82" y="386.35" font-size="12.80" fill="#000" >P</text>
<text id="pval" x="582.33" y="408.94" font-size="15.30" fill="#000"  textLength="91.11" lengthAdjust="spacing">p=3.00E-04*</text>
<text id="R2" x="582.90" y="431.65" font-size="15.30" fill="#000"  textLength="89.61" lengthAdjust="spacing">R2=0.00778</text>
</svg></body></html>
